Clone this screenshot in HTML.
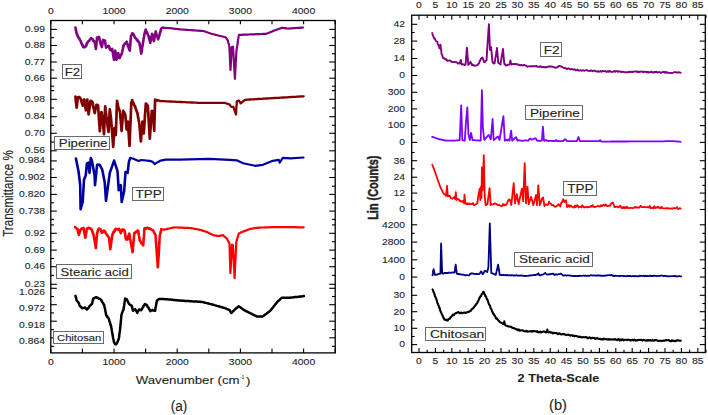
<!DOCTYPE html><html><head><meta charset="utf-8"><style>html,body{margin:0;padding:0;background:#fff;width:708px;height:415px;overflow:hidden}svg{display:block}text{font-family:"Liberation Sans",sans-serif;stroke:#222;stroke-width:0.1px}</style></head><body>
<svg width="708" height="415" viewBox="0 0 708 415">
<rect width="708" height="415" fill="#fff"/>
<polyline points="75.4,27.5 75.6,27.8 75.7,29.3 75.8,29.7 76.0,30.6 76.2,30.6 76.3,32.3 76.4,32.9 76.6,33.3 76.9,33.9 77.2,34.4 77.5,35.9 77.8,35.5 78.1,37.3 78.4,37.5 78.8,37.8 79.2,38.1 79.6,39.3 79.9,39.9 80.3,40.4 80.6,41.0 81.0,41.8 81.3,43.1 81.7,43.6 82.0,44.1 82.3,45.4 82.7,45.1 83.0,46.6 83.3,47.1 84.1,47.4 84.9,47.1 85.7,46.5 86.0,45.6 86.3,45.6 86.6,44.4 86.9,43.1 87.2,43.4 87.5,42.3 88.1,41.3 88.7,41.3 89.3,40.5 89.8,39.7 90.2,39.3 90.6,38.7 91.1,38.1 91.7,38.7 92.3,38.8 92.9,39.9 93.5,41.1 94.1,41.0 94.7,41.7 94.8,42.4 94.9,43.5 95.1,44.3 95.2,44.6 95.3,45.4 95.4,45.7 95.5,47.3 95.7,47.8 95.8,48.6 95.9,48.9 96.0,48.6 96.1,47.5 96.1,46.2 96.2,46.1 96.3,45.3 96.3,44.5 96.4,44.0 96.5,43.3 96.6,41.9 96.7,41.4 96.7,41.5 96.8,40.7 96.9,39.3 96.9,39.1 97.0,37.6 97.1,37.5 98.0,37.5 98.9,36.9 99.1,37.2 99.3,38.2 99.4,38.7 99.6,39.4 99.8,40.8 100.0,41.0 100.2,41.4 100.3,42.6 100.5,42.9 100.7,44.1 101.0,44.9 101.3,45.7 101.6,45.8 101.9,47.1 102.0,46.0 102.1,45.3 102.3,45.2 102.4,43.9 102.5,43.9 102.6,42.4 102.7,41.9 102.9,41.1 103.0,40.1 103.1,39.9 104.0,40.8 104.9,40.5 105.0,41.0 105.1,41.7 105.3,43.0 105.4,43.1 105.5,44.6 105.6,45.2 105.7,45.6 105.9,46.7 106.0,47.2 106.1,47.7 106.7,47.1 107.3,46.4 108.0,46.3 108.6,45.9 108.9,46.1 109.2,47.1 109.5,47.8 109.8,49.2 110.1,49.0 110.4,50.1 111.0,50.3 111.6,49.1 112.2,48.9 112.3,49.8 112.4,50.9 112.6,51.5 112.7,51.8 112.8,52.2 112.9,52.8 113.0,54.5 113.2,55.0 113.3,55.8 113.4,56.0 113.5,57.3 113.6,58.2 113.8,57.9 113.9,58.6 114.0,59.8 114.1,58.6 114.2,58.7 114.3,57.5 114.4,57.3 114.5,56.4 114.6,55.1 114.6,55.4 114.7,54.7 114.8,53.2 114.9,53.2 115.0,52.3 115.1,50.9 115.2,50.7 115.3,50.8 115.4,52.7 115.5,52.3 115.6,53.2 115.7,53.7 115.8,54.8 115.8,56.1 115.9,56.0 116.0,56.5 116.1,57.1 116.2,59.0 116.3,59.2 116.4,59.8 116.6,58.8 116.8,58.8 117.0,58.1 117.2,56.5 117.4,56.7 117.6,55.6 117.8,54.3 118.0,53.6 118.2,53.1 118.4,53.3 118.5,55.1 118.7,55.4 118.9,56.4 119.1,56.4 119.2,57.1 119.4,58.0 119.7,57.9 120.1,56.6 120.4,56.3 120.8,55.2 121.1,54.6 121.5,54.4 121.8,53.7 122.0,52.5 122.1,52.0 122.2,51.6 122.4,50.5 122.5,50.6 122.7,50.0 122.8,49.1 123.0,48.5 123.1,46.9 123.3,47.2 123.4,46.5 123.6,45.3 124.0,45.2 124.5,43.9 125.0,43.9 125.4,42.9 126.1,42.7 126.8,41.7 127.0,42.6 127.2,43.0 127.4,44.1 127.6,44.2 127.8,45.8 128.0,45.9 128.3,46.6 128.5,47.7 128.8,47.8 129.0,48.4 129.3,49.5 129.5,50.1 129.8,50.7 129.9,49.8 129.9,48.8 130.0,49.0 130.0,47.7 130.1,46.8 130.1,46.4 130.2,45.9 130.3,45.2 130.3,44.0 130.4,43.5 130.4,42.7 130.5,42.6 130.5,41.1 130.6,40.2 130.7,40.0 130.7,38.9 130.8,39.0 130.8,38.1 130.9,37.0 130.9,36.7 131.0,35.7 131.4,35.3 131.8,34.7 132.2,33.3 132.8,33.5 133.4,34.2 134.0,35.1 134.3,36.2 134.6,36.8 134.9,37.2 135.2,38.1 135.7,38.2 136.2,38.5 136.8,40.0 137.3,39.8 137.8,41.2 138.3,41.1 138.7,42.0 139.1,42.5 139.5,42.9 139.6,43.6 139.7,44.9 139.9,45.4 140.0,45.4 140.1,46.1 140.2,47.8 140.3,48.1 140.5,48.2 140.6,49.1 140.7,49.5 140.8,50.7 140.9,51.7 141.1,52.7 141.2,52.7 141.3,53.7 141.4,52.7 141.5,52.0 141.6,51.9 141.8,51.4 141.9,50.1 142.0,49.7 142.1,48.6 142.2,47.5 142.3,46.8 142.4,46.6 142.5,46.2 142.7,44.7 142.8,44.5 142.9,43.7 143.0,43.0 143.1,42.3 143.2,41.5 143.3,40.6 143.4,40.5 143.5,39.5 143.6,38.6 143.8,37.5 143.9,37.5 144.0,37.0 144.1,36.5 144.2,35.6 144.3,34.5 144.5,34.1 144.7,32.9 144.9,32.5 145.1,31.5 145.3,30.9 145.5,30.2 145.7,29.6 146.0,30.4 146.3,31.6 146.7,31.8 147.0,32.7 147.3,33.3 147.7,34.3 148.1,35.1 148.5,35.7 148.7,36.9 148.9,37.6 149.0,38.2 149.2,38.4 149.4,39.5 149.6,40.1 149.8,41.1 149.9,41.4 150.1,42.2 150.3,42.9 150.4,42.1 150.6,41.7 150.7,40.8 150.9,40.4 151.0,39.7 151.1,38.4 151.3,38.5 151.4,36.9 151.5,36.7 151.7,36.0 151.8,34.9 152.0,34.8 152.1,33.9 152.3,34.3 152.5,35.0 152.6,35.7 152.8,37.2 153.0,37.2 153.2,38.5 153.4,38.4 153.5,39.8 153.7,40.3 153.9,41.1 154.0,40.7 154.2,39.9 154.3,39.6 154.4,38.8 154.5,37.8 154.7,37.0 154.8,35.8 154.9,35.4 155.1,34.6 155.2,34.4 155.3,33.0 155.4,32.8 155.6,31.7 155.7,31.4 155.9,32.2 156.1,32.5 156.3,33.8 156.5,34.8 156.7,34.8 156.9,35.7 157.1,36.0 157.4,36.7 157.6,37.9 157.9,38.2 158.1,39.3 158.3,38.9 158.6,37.9 158.8,37.3 159.0,36.4 159.2,36.1 159.4,35.2 159.7,33.8 159.9,33.3 160.1,32.7 160.3,31.7 160.5,31.5 160.7,30.9 160.9,29.3 161.1,29.0 161.7,28.1 162.4,27.8 163.0,27.8" fill="none" stroke="#800080" stroke-width="2.6" stroke-linejoin="round" stroke-linecap="round"/>
<polyline points="163.0,27.8 163.7,27.8 164.4,27.9 165.1,27.9 165.8,27.9 166.5,28.0 167.3,28.0 168.0,28.1 168.7,28.1 169.4,28.1 170.1,28.2 170.8,28.2 171.5,28.3 172.2,28.4 172.9,28.5 173.6,28.6 174.3,28.7 175.0,28.8 175.8,28.8 176.5,28.9 177.2,29.0 177.9,29.1 178.6,29.2 179.3,29.3 180.0,29.4 180.7,29.4 181.4,29.5 182.1,29.5 182.8,29.6 183.6,29.6 184.3,29.7 185.0,29.7 185.7,29.8 186.4,29.8 187.1,29.9 187.8,29.9 188.5,30.0 189.3,30.0 190.0,30.1 190.7,30.1 191.4,30.2 192.1,30.2 192.8,30.3 193.5,30.3 194.2,30.4 195.0,30.4 195.7,30.5 196.4,30.5 197.1,30.6 197.8,30.6 198.5,30.7 199.2,30.7 199.9,30.8 200.7,30.8 201.4,30.9 202.1,30.9 202.8,31.0 203.5,31.0 204.2,31.3 204.9,31.5 205.6,31.8 206.3,32.0 207.0,32.3 207.8,32.5 208.5,32.8 209.2,33.0 209.9,33.3 210.6,33.5 211.3,33.8 212.0,34.0 212.7,34.1 213.5,34.3 214.2,34.5 214.9,34.7 215.6,34.8 216.3,35.0 217.0,35.2 217.8,35.4 218.5,35.5 219.2,35.7 219.9,35.9 220.6,36.0 221.3,36.2 222.0,36.4 222.7,36.5 223.4,36.7 224.1,36.9 224.8,37.0 225.5,37.2 226.0,37.8 226.4,38.5 226.9,39.1 227.3,39.8 227.8,40.4 228.0,41.1 228.2,41.8 228.3,42.5 228.5,43.2 228.7,43.8 228.9,44.5 229.0,45.2 229.2,45.9 229.4,46.6 229.4,47.3 229.5,48.0 229.5,48.7 229.5,49.4 229.6,50.2 229.6,50.9 229.6,51.6 229.7,52.3 229.7,53.0 229.7,53.7 229.8,54.4 229.8,55.1 229.8,55.9 229.9,56.6 229.9,57.3 229.9,58.0 230.0,58.7 230.0,59.4 230.0,60.1 230.1,60.8 230.1,61.6 230.1,62.3 230.2,63.0 230.2,63.7 230.2,64.4 230.3,65.1 230.3,65.8 230.3,66.5 230.4,67.3 230.4,68.0 230.4,68.7 230.5,69.4 230.5,70.1 230.5,69.4 230.6,68.7 230.6,68.0 230.7,67.3 230.7,66.6 230.7,65.8 230.8,65.1 230.8,64.4 230.8,63.7 230.9,63.0 230.9,62.3 230.9,61.6 231.0,60.9 231.0,60.2 231.1,59.5 231.1,58.8 231.1,58.0 231.2,57.3 231.2,56.6 231.2,55.9 231.3,55.2 231.3,54.5 231.4,53.8 231.4,53.1 231.4,52.4 231.5,51.7 231.5,50.9 231.5,50.2 231.6,49.5 231.6,48.8 231.7,48.1 231.7,47.4 232.3,47.0 233.0,46.6 233.0,47.3 233.1,48.0 233.1,48.7 233.2,49.4 233.2,50.1 233.2,50.8 233.3,51.5 233.3,52.2 233.4,52.9 233.4,53.6 233.5,54.3 233.5,55.0 233.5,55.7 233.6,56.4 233.6,57.1 233.7,57.8 233.7,58.5 233.7,59.2 233.8,59.9 233.8,60.6 233.9,61.3 233.9,62.0 233.9,62.7 234.0,63.4 234.0,64.1 234.1,64.8 234.1,65.5 234.2,66.2 234.2,66.9 234.2,67.6 234.3,68.3 234.3,69.0 234.4,69.7 234.4,70.4 234.4,71.1 234.5,71.8 234.5,72.5 234.6,73.2 234.6,73.9 234.7,74.6 234.7,75.3 234.7,76.0 234.8,76.7 234.8,77.4 234.9,78.1 234.9,78.8 234.9,78.1 235.0,77.4 235.0,76.7 235.1,76.0 235.1,75.3 235.1,74.6 235.2,73.9 235.2,73.2 235.2,72.5 235.3,71.7 235.3,71.0 235.4,70.3 235.4,69.6 235.4,68.9 235.5,68.2 235.5,67.5 235.6,66.8 235.6,66.1 235.6,65.4 235.7,64.7 235.7,64.0 235.7,63.3 235.8,62.6 235.8,61.9 235.9,61.2 235.9,60.5 235.9,59.8 236.0,59.1 236.0,58.4 236.1,57.6 236.1,56.9 236.1,56.2 236.2,55.5 236.2,54.8 236.2,54.1 236.3,53.4 236.3,52.7 236.4,52.0 236.4,51.3 236.5,50.6 236.6,49.8 236.7,49.1 236.8,48.4 236.9,47.7 237.0,46.9 237.1,46.2 237.3,45.5 237.4,44.8 237.5,44.0 237.6,43.3 237.7,42.6 237.8,41.9 237.9,41.1 238.0,40.4 238.1,39.6 238.3,38.8 238.4,38.0 238.5,37.3 238.6,36.5 238.8,35.7 238.9,34.9 239.6,34.9 240.3,34.8 241.0,34.8 241.7,34.8 242.4,34.8 243.1,34.7 243.8,34.7 244.5,34.7 245.2,34.6 245.9,34.6 246.6,34.6 247.3,34.6 248.0,34.5 248.7,34.5 249.4,34.5 250.1,34.4 250.8,34.4 251.5,34.4 252.2,34.4 253.0,34.3 253.7,34.3 254.4,34.3 255.1,34.3 255.8,34.2 256.5,34.2 257.2,34.2 257.9,34.1 258.6,34.1 259.3,34.1 260.0,34.1 260.7,34.0 261.4,34.0 262.1,34.0 262.8,33.9 263.5,33.9 264.2,33.9 264.9,33.9 265.6,33.8 266.3,33.8 266.9,33.5 267.6,33.3 268.2,33.0 268.9,32.7 269.6,32.5 270.2,32.2 270.9,31.9 271.5,31.7 272.2,31.4 272.8,31.1 273.5,30.9 274.1,30.6 274.8,30.3 275.5,30.1 276.3,29.8 277.0,29.6 277.7,29.3 278.4,29.1 279.1,28.8 279.8,28.6 280.6,28.3 281.3,28.1 282.0,27.8 282.8,27.9 283.6,28.0 284.3,28.1 285.1,28.2 285.9,28.3 286.6,28.4 287.4,28.5 288.2,28.6 288.9,28.5 289.6,28.5 290.3,28.4 291.0,28.4 291.7,28.3 292.5,28.3 293.2,28.2 293.9,28.2 294.6,28.1 295.3,28.1 296.0,28.0 296.7,28.0 297.4,27.9 298.1,27.9 298.8,27.8 299.6,27.8 300.3,27.7 301.0,27.7 301.7,27.6 302.4,27.6 303.1,27.5" fill="none" stroke="#800080" stroke-width="2.2" stroke-linejoin="round" stroke-linecap="round"/>
<polyline points="75.4,96.7 75.5,98.0 75.6,97.6 75.7,99.3 75.7,99.8 75.8,100.5 75.9,101.2 76.0,101.7 76.1,102.8 76.2,103.8 76.3,103.9 76.4,104.1 76.4,105.4 76.5,106.0 76.6,106.9 76.7,107.6 76.8,106.6 76.9,105.9 76.9,105.4 77.0,104.9 77.1,104.4 77.2,103.5 77.2,102.8 77.3,101.6 77.4,101.6 77.5,100.6 77.6,99.5 77.6,98.8 77.7,98.1 77.8,97.4 78.7,97.1 79.5,97.1 79.9,98.1 80.4,98.3 80.8,98.8 81.0,99.7 81.2,99.8 81.4,101.1 81.6,102.0 81.8,102.7 82.0,103.4 82.2,103.6 82.4,104.4 82.6,104.7 82.8,105.6 83.0,104.9 83.2,104.2 83.3,103.7 83.5,103.0 83.7,102.1 83.8,101.2 84.0,99.9 84.2,99.5 84.3,99.7 84.4,101.4 84.5,101.3 84.7,102.3 84.8,102.5 84.9,103.4 85.0,104.0 85.1,104.7 85.2,105.4 85.3,107.1 85.4,107.0 85.6,108.0 85.7,109.4 85.8,109.0 85.9,110.3 86.0,109.7 86.1,108.4 86.2,107.6 86.3,107.7 86.4,107.2 86.5,106.4 86.6,105.2 86.6,104.7 86.7,103.3 86.8,103.5 86.9,102.5 87.0,101.7 87.1,101.5 87.2,100.3 87.3,99.5 87.4,99.6 87.4,100.5 87.5,101.1 87.5,101.9 87.6,103.1 87.7,104.3 87.7,104.1 87.8,104.9 87.9,106.0 87.9,106.8 88.0,107.2 88.0,107.4 88.1,108.6 88.2,109.7 88.2,109.7 88.3,110.5 88.4,111.6 88.4,112.0 88.5,112.6 88.5,114.2 88.6,114.4 88.7,113.6 88.8,113.1 88.9,112.2 89.0,111.2 89.1,111.2 89.2,110.1 89.3,109.5 89.4,109.3 89.5,107.4 89.7,106.8 89.8,106.9 89.9,105.2 90.0,105.0 90.1,104.0 90.2,103.2 90.3,102.8 90.4,101.7 90.5,101.1 90.6,100.8 91.4,101.2 92.3,101.8 92.5,102.8 92.6,102.7 92.8,103.4 92.9,104.8 93.0,105.5 93.2,106.2 93.3,107.0 93.5,107.2 93.7,108.5 93.8,108.8 94.0,110.0 94.1,110.7 94.2,110.7 94.4,111.6 94.5,112.2 94.7,113.0 94.9,112.8 95.0,111.9 95.2,110.6 95.3,109.6 95.5,108.8 95.6,109.1 95.8,108.0 95.9,106.9 96.1,106.6 96.2,105.6 96.4,104.9 97.2,104.8 98.1,105.6 98.1,106.9 98.2,106.5 98.2,108.0 98.3,108.9 98.3,109.4 98.4,110.5 98.4,110.7 98.5,111.2 98.5,112.1 98.6,112.3 98.6,113.4 98.7,114.4 98.7,115.1 98.8,116.1 98.8,116.6 98.9,117.3 98.9,117.4 98.9,118.3 99.0,119.7 99.0,119.2 99.1,120.8 99.1,121.4 99.2,121.4 99.2,122.9 99.3,123.9 99.3,123.6 99.4,125.1 99.4,125.8 99.5,125.9 99.5,126.5 99.6,127.6 99.6,128.4 99.7,128.7 99.7,129.3 99.8,130.5 99.8,131.2 99.9,130.7 99.9,129.8 100.0,128.9 100.1,128.4 100.1,127.1 100.2,126.5 100.2,126.6 100.3,125.7 100.4,125.2 100.4,123.7 100.5,123.3 100.6,122.1 100.6,122.5 100.7,121.3 100.7,120.5 100.8,119.6 100.9,119.1 100.9,118.9 101.0,118.1 101.1,117.2 101.1,116.5 101.2,116.0 101.2,115.0 101.3,114.2 101.4,113.8 101.4,112.5 101.5,112.0 101.6,112.7 101.8,113.2 101.9,113.8 102.0,114.9 102.1,115.5 102.2,116.4 102.4,117.2 102.5,118.0 102.6,119.2 102.6,119.3 102.7,120.6 102.8,120.3 102.8,121.1 102.9,122.0 103.0,123.3 103.0,124.0 103.1,124.2 103.2,124.8 103.2,126.2 103.3,126.6 103.3,127.4 103.4,128.2 103.5,128.8 103.5,128.9 103.6,130.1 103.7,130.5 103.7,131.8 103.8,132.0 103.9,132.3 103.9,133.0 104.0,134.1 104.0,133.2 104.1,133.2 104.1,132.3 104.1,131.3 104.2,130.9 104.2,129.6 104.2,128.7 104.2,128.9 104.3,127.3 104.3,126.7 104.3,126.0 104.4,125.3 104.4,125.0 104.4,124.0 104.5,122.9 104.5,123.2 104.5,122.4 104.6,121.3 104.6,120.4 104.6,120.0 104.6,119.8 104.7,118.4 104.7,117.5 104.7,117.2 104.8,116.4 104.8,116.2 104.8,114.9 104.9,114.2 104.9,113.0 104.9,112.3 105.0,112.3 105.0,110.9 105.0,111.0 105.0,109.5 105.1,108.8 105.1,108.7 105.1,108.4 105.2,106.6 105.2,106.4 105.3,106.8 105.4,107.9 105.4,108.6 105.5,108.9 105.6,110.4 105.7,111.0 105.8,111.0 105.8,111.8 105.9,112.5 106.0,113.1 106.1,114.2 106.2,115.5 106.3,116.1 106.3,117.1 106.4,116.8 106.5,118.0 106.6,118.9 106.7,119.3 106.8,120.0 106.9,120.7 107.0,121.9 107.1,122.2 107.2,123.2 107.3,123.3 107.4,124.5 107.5,124.4 107.6,125.3 107.7,126.5 107.8,127.3 107.9,128.0 108.0,128.0 108.1,129.6 108.2,130.0 108.3,130.2 108.4,131.5 108.5,132.0 108.5,130.9 108.6,131.2 108.6,129.8 108.7,128.8 108.7,128.7 108.7,128.2 108.8,127.0 108.8,126.6 108.9,125.8 108.9,125.2 108.9,124.7 109.0,123.3 109.0,122.7 109.1,122.6 109.1,121.7 109.2,121.0 109.2,119.9 109.2,119.3 109.3,118.2 109.3,117.5 109.4,117.3 109.4,116.1 109.4,116.2 109.5,115.2 109.5,114.8 109.6,113.4 109.6,113.3 109.6,111.6 109.7,111.2 109.7,110.6 109.8,110.4 109.8,109.4 109.9,110.0 110.0,111.2 110.1,111.6 110.2,111.8 110.3,112.8 110.4,113.8 110.5,114.6 110.6,115.5 110.7,115.4 110.8,117.1 110.9,116.9 111.0,118.0 111.1,119.2 111.1,119.6 111.2,119.8 111.2,120.3 111.3,121.1 111.3,122.1 111.4,123.5 111.4,123.6 111.5,124.0 111.5,125.1 111.6,125.2 111.6,126.6 111.7,127.4 111.8,127.9 111.8,128.5 111.9,129.6 111.9,130.2 112.0,130.3 112.0,131.3 112.1,131.6 112.1,132.8 112.2,133.6 112.2,133.7 112.3,134.4 112.3,135.5 112.4,136.0 112.4,136.9 112.5,137.5 112.6,138.9 112.6,138.6 112.7,139.6 112.7,140.6 112.8,141.7 112.8,142.4 112.9,142.4 112.9,142.7 113.0,144.6 113.0,145.1 113.1,145.4 113.1,146.0 113.2,146.8 113.2,146.4 113.3,144.8 113.3,145.2 113.4,144.1 113.4,143.7 113.5,142.2 113.5,142.2 113.5,141.5 113.6,140.4 113.6,139.2 113.7,138.3 113.7,138.1 113.8,137.6 113.8,136.7 113.8,135.8 113.9,134.8 113.9,134.5 114.0,134.4 114.0,133.1 114.0,132.3 114.1,132.0 114.1,130.5 114.2,129.7 114.2,128.9 114.3,129.3 114.3,128.0 114.5,128.8 114.6,129.3 114.8,130.0 114.9,130.5 115.0,132.0 115.2,132.3 115.3,132.7 115.5,134.2 115.6,134.4 115.8,135.0 115.8,134.0 115.8,133.4 115.9,132.8 115.9,132.2 115.9,131.4 116.0,131.0 116.0,130.0 116.0,129.6 116.0,129.2 116.0,128.0 116.1,127.1 116.1,127.0 116.1,125.9 116.1,125.3 116.2,124.7 116.2,123.2 116.2,123.1 116.2,122.2 116.3,121.9 116.3,121.3 116.3,120.0 116.3,119.7 116.4,118.9 116.4,117.8 116.4,117.2 116.5,117.1 116.5,115.9 116.5,114.7 116.5,114.2 116.5,113.8 116.6,113.5 116.6,111.8 116.6,111.0 116.7,111.1 116.7,109.9 116.7,109.9 116.7,109.2 116.8,108.1 116.8,107.4 116.8,106.3 116.8,106.0 116.8,105.1 116.9,104.5 116.9,103.4 116.9,103.6 117.0,102.0 117.0,101.9 117.0,100.9 117.2,101.7 117.3,102.8 117.5,103.0 117.6,103.6 117.8,104.3 117.9,104.8 118.0,106.4 118.2,106.7 118.3,106.9 118.5,108.0 118.8,108.9 119.0,108.9 119.2,109.7 119.5,110.7 119.8,110.9 120.0,112.2 120.1,112.7 120.1,113.6 120.2,114.9 120.2,115.4 120.3,115.7 120.4,116.0 120.4,117.2 120.5,118.3 120.6,119.0 120.6,118.8 120.7,119.7 120.7,120.3 120.8,121.5 120.9,121.7 120.9,123.3 121.0,123.3 121.0,124.5 121.1,125.3 121.2,125.4 121.2,125.9 121.3,126.7 121.4,127.9 121.4,129.2 121.5,129.5 121.5,130.6 121.6,130.8 121.7,129.7 121.7,128.8 121.8,128.8 121.8,128.4 121.9,126.8 122.0,127.1 122.0,125.8 122.1,124.6 122.1,125.0 122.2,124.1 122.3,122.8 122.3,121.9 122.4,121.6 122.4,120.9 122.5,120.7 122.6,119.8 122.6,118.5 122.7,117.6 122.8,117.2 122.8,117.0 122.9,116.4 122.9,115.0 123.0,115.0 123.1,113.2 123.1,112.9 123.2,112.6 123.2,111.3 123.3,110.9 123.6,112.1 124.0,112.6 124.3,112.5 124.6,113.7 125.0,114.3 125.3,114.9 125.4,115.6 125.4,116.3 125.5,116.6 125.6,117.6 125.6,118.6 125.7,119.0 125.8,119.8 125.8,120.3 125.9,121.9 125.9,121.8 126.0,122.4 126.1,123.5 126.1,124.2 126.2,125.5 126.3,125.2 126.3,126.4 126.4,126.8 126.5,127.7 126.5,128.4 126.6,129.4 126.7,129.1 126.8,127.9 127.0,127.7 127.1,127.1 127.2,126.2 127.3,125.2 127.4,124.5 127.5,123.1 127.7,123.4 127.8,122.2 127.9,121.5 127.9,122.6 128.0,122.9 128.0,123.2 128.1,124.7 128.1,125.6 128.2,126.3 128.2,126.4 128.3,126.7 128.3,128.2 128.4,128.5 128.4,129.4 128.4,130.2 128.5,130.7 128.5,131.4 128.6,132.6 128.6,133.0 128.7,133.9 128.7,134.5 128.8,134.5 128.8,135.2 128.9,136.3 128.9,137.4 129.0,137.9 129.0,138.1 129.0,139.5 129.1,139.7 129.1,139.9 129.2,141.7 129.2,142.0 129.3,142.0 129.3,143.1 129.4,143.8 129.4,144.2 129.5,145.1 129.5,146.0 129.5,144.9 129.6,144.5 129.6,144.4 129.6,142.6 129.6,143.0 129.7,142.1 129.7,141.6 129.7,140.5 129.8,139.2 129.8,138.6 129.8,138.6 129.9,138.0 129.9,136.2 129.9,135.5 129.9,135.9 130.0,134.2 130.0,134.2 130.0,133.2 130.1,133.0 130.1,132.1 130.1,130.6 130.1,130.1 130.2,129.4 130.2,129.3 130.2,128.8 130.3,128.2 130.3,127.1 130.3,126.4 130.4,125.2 130.4,125.1 130.4,123.6 130.4,123.0 130.5,122.4 130.5,122.4 130.5,121.5 130.6,120.9 130.6,120.5 130.6,118.9 130.7,118.4 130.7,117.9 130.7,117.6 130.7,116.9 130.8,115.8 130.8,115.0 130.8,113.9 130.9,113.1 130.9,112.9 130.9,111.7 130.9,111.2 131.0,110.6 131.0,109.8 131.0,108.8 131.1,108.5 131.1,107.2 131.1,106.6 131.2,106.2 131.2,106.3 131.2,104.7 131.2,103.8 131.3,103.1 131.3,102.9 131.5,102.3 131.8,102.0 132.0,101.0 132.2,100.0 132.5,101.2 132.8,101.8 133.1,102.4 133.4,102.8 133.7,103.8 134.0,104.5 134.3,105.2 134.6,105.6 134.9,106.5 135.1,106.3 135.4,107.8 135.6,108.2 135.9,109.0 136.2,110.1 136.4,110.0 136.7,111.4 136.9,111.9 137.2,112.2 137.3,112.5 137.5,113.5 137.6,114.7 137.7,114.8 137.9,116.2 138.0,116.5 138.1,117.6 138.3,117.8 138.4,118.3 138.5,119.2 138.7,120.2 138.8,120.9 138.9,121.8 139.1,122.3 139.2,122.8 139.3,123.0 139.3,124.3 139.4,124.5 139.5,126.0 139.5,127.0 139.6,127.5 139.7,127.4 139.7,129.0 139.8,129.0 139.9,129.8 139.9,130.9 140.0,130.9 140.1,131.6 140.1,133.2 140.2,133.2 140.2,133.9 140.3,134.8 140.4,135.6 140.4,136.8 140.5,136.9 140.6,137.5 140.6,138.9 140.7,138.9 140.8,140.0 140.8,141.2 140.9,141.4 141.0,140.1 141.0,140.0 141.1,139.3 141.1,138.1 141.2,138.2 141.2,136.7 141.3,136.0 141.4,135.3 141.4,134.8 141.5,134.4 141.5,133.7 141.6,133.4 141.6,132.3 141.7,131.1 141.8,131.3 141.8,129.5 141.9,129.0 141.9,128.2 142.0,128.2 142.0,127.3 142.1,126.6 142.2,125.6 142.2,124.7 142.3,124.7 142.3,123.9 142.4,122.9 142.4,122.0 142.5,121.5 142.6,122.6 142.7,123.2 142.7,123.5 142.8,124.4 142.9,124.7 143.0,126.2 143.0,125.8 143.1,127.3 143.2,128.3 143.3,129.0 143.3,129.7 143.4,129.4 143.5,130.4 143.6,131.7 143.6,132.0 143.7,133.0 143.8,133.4 143.8,132.8 143.9,132.1 143.9,131.2 144.0,130.4 144.0,129.9 144.1,129.0 144.1,128.7 144.2,127.6 144.2,127.4 144.3,126.8 144.3,125.0 144.4,124.9 144.4,124.6 144.5,123.9 144.5,123.2 144.6,121.5 144.6,121.9 144.7,121.0 144.7,119.6 144.8,119.6 144.8,118.4 144.8,117.5 144.9,116.5 144.9,116.0 145.0,115.7 145.0,115.2 145.1,114.3 145.1,113.1 145.2,112.4 145.2,111.8 145.3,112.0 145.3,110.6 145.4,109.5 145.4,108.8 145.5,108.9 145.5,108.1 145.6,107.6 145.6,106.1 145.7,105.7 145.7,105.2 145.8,104.9 145.8,103.6 146.3,103.8 146.8,104.4 147.3,105.6 147.8,105.6 147.8,105.8 147.9,106.6 147.9,107.5 148.0,108.1 148.0,109.7 148.1,109.8 148.1,110.3 148.1,111.7 148.2,111.7 148.2,112.6 148.3,113.7 148.3,114.6 148.4,114.2 148.4,115.5 148.4,116.6 148.5,116.9 148.5,117.1 148.6,118.4 148.6,119.2 148.7,120.0 148.7,120.6 148.7,121.5 148.8,121.9 148.8,122.6 148.9,123.4 148.9,123.7 148.9,124.3 149.0,124.7 149.0,126.3 149.1,126.7 149.1,127.1 149.2,128.2 149.2,128.7 149.2,129.9 149.3,130.0 149.3,131.1 149.4,131.8 149.4,132.7 149.5,133.4 149.5,133.4 149.5,134.4 149.6,134.7 149.6,135.6 149.7,136.8 149.7,137.1 149.8,138.2 149.8,138.7 149.9,138.1 149.9,136.8 150.0,136.4 150.0,135.5 150.1,135.0 150.1,134.0 150.2,133.7 150.2,133.4 150.3,132.3 150.3,131.3 150.4,130.6 150.4,130.1 150.5,129.2 150.5,128.7 150.6,128.6 150.6,127.1 150.7,126.1 150.7,125.9 150.8,125.3 150.8,124.3 150.9,123.6 150.9,123.3 151.0,122.3 151.0,121.9 151.1,121.5 151.1,120.0 151.2,119.6 151.2,118.9 151.3,118.3 151.3,117.7 151.4,116.9 151.4,115.9 151.5,115.7 151.5,114.1 151.6,113.7 151.6,113.4 151.7,112.2 151.7,111.0 151.8,110.9 152.4,111.1 153.1,112.2 153.1,112.7 153.2,113.2 153.2,114.6 153.3,114.5 153.3,115.2 153.4,116.8 153.4,117.0 153.4,118.2 153.5,118.7 153.5,119.0 153.6,120.0 153.6,120.7 153.6,121.5 153.7,122.6 153.7,122.8 153.8,123.8 153.8,123.9 153.9,125.2 153.9,125.5 153.9,127.1 154.0,127.3 154.0,127.9 154.1,128.4 154.1,129.3 154.2,130.2 154.2,130.8 154.2,130.6 154.2,129.2 154.3,128.1 154.3,127.9 154.3,126.7 154.3,126.2 154.3,125.7 154.4,124.9 154.4,124.0 154.4,123.3 154.4,123.1 154.4,121.7 154.5,121.3 154.5,120.3 154.5,119.7 154.5,119.4 154.5,119.2 154.6,118.3 154.6,117.6 154.6,116.9 154.6,116.4 154.6,114.7 154.7,114.3 154.7,113.4 154.7,113.1 154.7,112.6 154.8,111.5 154.8,111.0 154.8,110.3 154.8,109.6 154.8,108.5 154.9,108.3 154.9,107.3 154.9,107.1 154.9,106.0 154.9,105.2 155.0,104.3 155.0,103.6 155.0,102.6 155.0,102.6 155.0,101.7 155.1,101.2 155.1,100.4 155.1,99.6 155.9,99.9 156.6,100.4" fill="none" stroke="#800000" stroke-width="2.7" stroke-linejoin="round" stroke-linecap="round"/>
<polyline points="156.6,100.4 157.4,100.6 158.2,100.1 158.9,100.7 159.7,101.0 160.4,101.0 161.1,101.1 161.8,101.1 162.5,101.1 163.2,101.2 163.9,101.2 164.6,101.2 165.4,101.3 166.1,101.3 166.8,101.3 167.5,101.4 168.2,101.4 168.9,101.4 169.6,101.5 170.3,101.5 171.0,101.5 171.7,101.6 172.4,101.6 173.1,101.6 173.8,101.7 174.5,101.7 175.3,101.7 176.0,101.8 176.7,101.8 177.4,101.8 178.1,101.9 178.8,101.9 179.5,101.9 180.2,102.0 180.9,102.0 181.6,102.0 182.3,102.1 183.0,102.1 183.7,102.1 184.4,102.2 185.2,102.2 185.9,102.2 186.6,102.3 187.3,102.3 188.0,102.3 188.7,102.4 189.4,102.4 190.1,102.4 190.8,102.5 191.5,102.5 192.2,102.5 192.9,102.6 193.6,102.6 194.3,102.6 195.1,102.7 195.8,102.7 196.5,102.7 197.2,102.8 197.9,102.8 198.6,102.8 199.3,102.9 200.0,102.9 200.7,102.9 201.4,102.9 202.1,102.9 202.8,102.9 203.5,102.9 204.3,102.9 205.0,102.9 205.7,102.9 206.4,102.9 207.1,102.9 207.8,102.9 208.5,102.9 209.2,102.9 209.9,102.9 210.6,102.9 211.3,102.9 212.0,102.9 212.8,102.9 213.5,102.9 214.2,102.9 214.9,102.9 215.6,102.9 216.3,102.9 217.0,102.9 217.7,102.9 218.4,102.9 219.1,102.9 219.8,102.9 220.5,102.9 221.3,102.9 222.0,102.9 222.7,102.9 223.4,102.9 224.1,102.9 224.8,102.9 225.5,103.1 226.1,103.3 226.8,103.5 227.5,103.8 228.2,104.0 228.8,104.2 229.5,104.4 229.9,105.0 230.3,105.6 230.7,106.1 231.1,106.7 231.9,106.8 232.6,106.9 233.4,107.0 233.6,107.7 233.9,108.4 234.1,109.0 234.3,109.7 234.6,110.4 234.8,111.1 235.1,111.8 235.3,112.5 235.5,113.1 235.8,113.8 236.0,114.5 236.0,113.8 236.1,113.0 236.1,112.3 236.2,111.6 236.2,110.8 236.3,110.1 236.3,109.4 236.4,108.6 236.4,107.9 236.4,107.2 236.5,106.4 236.5,105.7 236.6,105.0 236.6,104.2 236.7,103.5 236.7,102.8 236.8,102.0 236.8,101.3 237.5,101.0 238.1,100.8 238.8,100.5 239.3,101.2 239.8,101.9 240.2,102.6 240.7,103.3 241.3,102.8 241.9,102.3 242.5,101.8 243.2,101.3 243.8,100.8 244.4,100.3 245.0,99.8 245.7,99.8 246.4,99.7 247.1,99.7 247.8,99.6 248.5,99.6 249.2,99.5 249.9,99.5 250.6,99.5 251.3,99.4 252.0,99.4 252.7,99.3 253.4,99.3 254.1,99.3 254.8,99.2 255.5,99.2 256.2,99.1 256.9,99.1 257.6,99.0 258.3,99.0 259.0,99.0 259.7,98.9 260.4,98.9 261.1,98.8 261.8,98.8 262.5,98.8 263.2,98.7 263.9,98.7 264.6,98.6 265.3,98.6 266.0,98.5 266.7,98.5 267.4,98.5 268.1,98.4 268.8,98.4 269.5,98.3 270.2,98.3 270.9,98.3 271.6,98.2 272.3,98.2 273.0,98.1 273.7,98.1 274.4,98.0 275.0,98.0 275.7,98.0 276.4,97.9 277.1,97.9 277.8,97.8 278.5,97.8 279.2,97.8 279.9,97.7 280.6,97.7 281.3,97.6 282.0,97.6 282.7,97.5 283.4,97.5 284.1,97.5 284.8,97.4 285.5,97.4 286.2,97.3 286.9,97.3 287.6,97.3 288.3,97.2 289.0,97.2 289.7,97.1 290.4,97.1 291.1,97.0 291.8,97.0 292.5,97.0 293.2,96.9 293.9,96.9 294.6,96.8 295.3,96.8 296.0,96.8 296.7,96.7 297.4,96.7 298.1,96.6 298.8,96.6 299.5,96.5 300.2,96.5 300.9,96.5 301.6,96.4 302.3,96.4 303.0,96.3 303.7,96.3" fill="none" stroke="#800000" stroke-width="2.3" stroke-linejoin="round" stroke-linecap="round"/>
<polyline points="75.9,158.5 78.5,171.2 80.2,185.0 80.6,209.2 82.7,202.0 84.0,179.7 85.7,175.4 86.9,163.6 88.2,162.7 89.5,172.9 90.8,158.1 92.0,161.0 94.6,175.4 95.0,185.1 97.1,164.8 99.7,164.8 102.2,169.5 104.7,182.2 106.0,200.8 109.8,172.9 114.1,160.6 117.5,171.2 118.7,190.2 120.8,185.1 121.7,202.0 124.2,191.0 125.5,172.0 127.6,172.9 128.9,161.9 130.2,158.1" fill="none" stroke="#0000a0" stroke-width="2.6" stroke-linejoin="round" stroke-linecap="round"/>
<polyline points="130.2,158.1 132.7,158.5 138.6,161.0 141.2,160.0 149.7,160.8 152.6,161.9 154.7,164.0 158.1,161.9 160.7,160.6 165.8,159.7 180.0,159.7 209.5,158.8 229.3,159.8 237.2,160.4 243.2,163.2 255.0,165.8 262.9,164.8 272.8,160.8 278.8,159.8 279.7,162.8 282.7,157.9 290.6,158.4 303.5,157.5" fill="none" stroke="#0000a0" stroke-width="2.2" stroke-linejoin="round" stroke-linecap="round"/>
<polyline points="75.1,227.2 75.7,227.4 76.3,228.1 77.0,229.0 77.6,229.3 77.8,229.3 77.9,230.3 78.1,232.1 78.2,232.5 78.4,232.9 78.6,233.6 78.7,234.1 78.9,234.8 79.1,234.3 79.3,233.6 79.6,232.2 79.8,232.2 80.0,231.3 80.2,230.2 80.8,229.9 81.3,228.9 81.9,228.5 82.8,228.2 83.6,228.0 83.7,229.2 83.8,228.9 84.0,230.8 84.1,231.0 84.2,231.5 84.3,232.0 84.4,233.0 84.6,233.9 84.7,234.8 84.8,235.2 84.9,236.2 85.1,237.0 85.2,237.4 85.3,237.8 85.4,237.5 85.5,236.1 85.7,236.1 85.8,234.4 85.9,234.1 86.0,233.2 86.2,233.3 86.3,232.2 86.4,231.7 86.5,231.2 86.7,229.9 86.8,228.9 86.9,228.5 87.8,228.5 88.6,227.7 89.5,228.0 90.1,228.7 90.8,228.5 91.4,229.4 92.0,230.2 92.2,231.5 92.5,231.6 92.7,232.6 93.0,233.2 93.2,234.5 93.5,234.5 93.7,235.3 93.8,235.6 93.9,237.4 94.0,237.5 94.2,238.0 94.3,238.2 94.4,239.7 94.5,240.4 94.6,241.2 94.8,241.9 94.9,241.7 95.0,243.3 95.1,243.4 95.2,244.6 95.3,245.0 95.5,245.7 95.6,246.3 95.7,247.7 95.8,248.0 95.9,247.4 95.9,246.3 96.0,246.2 96.0,244.6 96.1,244.6 96.2,243.4 96.2,243.4 96.3,242.7 96.4,241.2 96.4,241.3 96.5,239.6 96.5,239.3 96.6,239.0 96.7,237.4 96.7,237.5 96.8,236.8 96.9,235.1 96.9,235.3 97.0,233.9 97.0,233.3 97.1,232.7 97.4,232.6 97.7,230.6 97.9,231.1 98.2,229.8 98.5,229.8 98.8,228.5 99.7,229.2 100.5,229.3 100.8,230.2 101.0,230.4 101.3,231.0 101.5,232.1 101.8,232.7 102.3,232.6 102.8,232.2 103.4,231.7 103.9,230.6 104.3,231.7 104.7,231.1 105.2,231.8 105.6,233.1 106.0,233.3 106.4,234.0 106.8,234.8 107.3,234.9 107.7,235.9 108.1,236.3 108.6,237.2 109.0,237.8 109.1,238.1 109.2,239.8 109.2,240.4 109.3,240.8 109.4,240.7 109.5,241.8 109.6,242.7 109.7,243.9 109.7,243.6 109.8,244.4 109.9,246.3 110.0,245.8 110.1,246.8 110.1,247.6 110.2,248.6 110.3,249.2 110.4,248.1 110.5,247.3 110.6,247.4 110.7,245.8 110.8,245.5 110.9,245.4 111.0,244.7 111.1,243.5 111.2,242.9 111.3,242.0 111.4,241.4 111.5,240.8 111.6,239.4 111.7,239.2 111.8,239.2 111.9,238.5 112.0,236.9 112.1,236.0 112.2,236.0 112.3,235.5 112.4,234.4 112.8,234.1 113.2,232.6 113.5,231.9 113.9,232.3 114.3,230.8 114.7,231.3 115.0,229.5 115.4,229.0 115.8,228.9 116.7,229.1 117.5,229.5 118.3,229.3 119.2,228.9 119.5,230.0 119.7,230.6 120.0,231.3 120.3,231.1 120.5,232.5 120.8,233.1 121.1,232.0 121.5,231.2 121.8,231.2 122.2,229.9 122.5,229.3 123.2,229.7 124.0,229.8 124.7,231.0 124.8,232.4 124.9,232.8 125.0,233.4 125.1,234.1 125.2,234.5 125.3,235.8 125.4,235.4 125.5,237.2 125.6,237.3 125.7,237.6 125.8,238.4 125.9,239.5 126.7,239.2 127.5,239.5 127.7,239.0 127.9,237.7 128.1,237.2 128.3,236.7 128.6,235.4 128.8,235.0 129.0,233.9 129.2,233.6 129.3,234.0 129.5,234.5 129.6,235.6 129.7,236.3 129.8,237.5 130.0,237.7 130.1,238.9 130.2,239.4 130.3,239.8 130.5,240.1 130.6,241.4 130.7,242.4 130.8,242.1 131.0,242.8 131.1,244.4 131.2,244.3 131.3,245.0 131.5,246.3 131.6,246.1 131.7,247.1 131.8,248.2 132.0,248.1 132.1,249.4 132.2,249.7 132.3,251.5 132.5,251.6 132.6,252.2 132.7,251.2 132.7,250.2 132.8,250.7 132.9,250.0 132.9,249.0 133.0,247.7 133.0,247.5 133.1,246.2 133.2,246.5 133.2,245.2 133.3,244.4 133.4,244.0 133.4,243.1 133.5,242.5 133.5,241.1 133.6,241.1 133.7,240.8 133.7,239.2 133.8,238.9 133.9,238.3 133.9,237.1 134.0,236.0 134.0,236.3 134.1,235.6 134.2,234.2 134.2,234.3 134.3,233.1 134.9,232.7 135.6,232.6 136.2,231.6 136.8,231.5 137.5,230.8 138.1,230.6 138.2,230.7 138.3,231.4 138.5,233.1 138.6,232.9 138.7,233.9 138.8,235.2 138.9,235.6 139.1,236.0 139.2,236.9 139.3,237.1 139.4,238.6 139.6,239.3 139.7,240.2 139.8,240.3 140.2,241.0 140.7,241.8 141.1,242.5 141.5,243.4 141.9,243.6 142.3,243.4 142.8,245.0 143.2,245.4 143.3,244.7 143.3,243.6 143.4,242.6 143.4,242.8 143.5,242.0 143.5,241.7 143.6,240.9 143.6,239.1 143.7,238.7 143.7,238.4 143.8,237.4 143.8,237.2 143.9,236.7 144.0,236.1 144.0,235.2 144.1,234.6 144.1,233.9 144.2,233.1 144.2,231.5 144.3,230.7 144.3,230.1 144.4,230.2 144.4,229.1 144.5,228.5 145.3,228.1 146.2,228.6 147.1,227.7 147.9,228.0 148.6,228.6 149.4,228.4 150.1,228.9 150.8,229.3 151.5,229.6 152.3,229.9 153.0,230.2 153.3,230.8 153.6,231.5 153.9,232.1 154.2,232.8 154.6,233.4 154.9,234.0 155.2,234.7 155.5,235.3 155.6,236.0 155.6,236.7 155.7,237.4 155.7,238.1 155.8,238.8 155.8,239.5 155.9,240.2 155.9,240.9 156.0,241.6 156.0,242.3 156.1,243.0 156.1,243.7 156.2,244.4 156.2,245.1 156.3,245.8 156.3,246.5 156.4,247.2 156.4,247.9 156.5,248.6 156.5,249.3 156.6,250.0 156.7,250.7 156.7,251.4 156.8,252.2 156.8,252.9 156.8,253.6 156.9,254.3 156.9,255.0 157.0,255.7 157.1,256.4 157.1,257.2 157.2,257.9 157.2,258.6 157.2,259.3 157.3,260.0 157.3,260.8 157.4,261.5 157.5,262.2 157.5,262.9 157.6,263.6 157.6,264.3 157.7,265.1 157.7,265.8 157.8,266.5 157.8,267.2 157.9,266.5 157.9,265.8 158.0,265.1 158.0,264.3 158.1,263.6 158.1,262.9 158.2,262.2 158.2,261.5 158.2,260.8 158.3,260.0 158.3,259.3 158.4,258.6 158.5,257.9 158.5,257.2 158.6,256.4 158.6,255.7 158.7,255.0 158.7,254.3 158.8,253.6 158.8,252.9 158.8,252.2 158.9,251.4 158.9,250.7 159.0,250.0 159.0,249.3 159.1,248.6 159.1,247.9 159.1,247.2 159.2,246.5 159.2,245.8 159.2,245.1 159.3,244.4 159.3,243.7 159.3,243.0 159.4,242.3 159.4,241.6 159.5,240.9 159.5,240.2 159.5,239.5 159.6,238.8 159.6,238.1 159.6,237.4 159.7,236.7 159.7,236.0 159.9,235.3 160.0,234.6 160.2,234.0 160.4,233.3 160.6,232.6 160.7,231.9 160.9,231.2 161.1,230.6 161.2,229.9 161.4,229.2" fill="none" stroke="#ff0000" stroke-width="2.6" stroke-linejoin="round" stroke-linecap="round"/>
<polyline points="161.4,229.2 162.4,229.5 163.3,229.8 164.0,229.6 164.7,229.5 165.5,229.3 166.2,229.2 166.9,229.0 167.6,228.8 168.3,228.7 169.1,228.5 169.8,228.4 170.5,228.2 171.2,228.0 171.9,227.9 172.7,227.7 173.4,227.6 174.1,227.4 174.8,227.4 175.5,227.5 176.3,227.5 177.0,227.5 177.7,227.5 178.4,227.6 179.2,227.6 179.9,227.6 180.6,227.6 181.3,227.7 182.1,227.7 182.8,227.7 183.5,227.8 184.2,227.8 184.9,227.8 185.7,227.8 186.4,227.9 187.1,227.9 187.8,227.9 188.6,227.9 189.3,228.0 190.0,228.0 190.7,228.1 191.4,228.3 192.1,228.4 192.9,228.5 193.6,228.6 194.3,228.8 195.0,228.9 195.7,229.0 196.4,229.2 197.1,229.3 197.9,229.4 198.6,229.5 199.3,229.7 200.0,229.8 200.7,230.0 201.3,230.2 202.0,230.4 202.7,230.6 203.3,230.9 204.0,231.1 204.7,231.3 205.4,231.5 206.0,231.7 206.7,231.9 207.4,232.2 208.1,232.6 208.7,232.9 209.4,233.2 210.1,233.6 210.8,233.9 211.5,234.2 212.1,234.5 212.8,234.9 213.5,235.2 214.2,235.3 214.9,235.5 215.6,235.6 216.4,235.7 217.1,235.8 217.8,236.0 218.5,236.1 219.2,235.9 219.9,235.8 220.7,235.6 221.4,235.5 222.1,235.3 222.8,235.2 223.4,235.7 224.0,236.2 224.6,236.7 225.2,237.1 225.8,237.6 226.4,238.1 227.0,238.6 227.3,239.2 227.6,239.9 227.9,240.5 228.2,241.1 228.6,241.8 228.9,242.4 229.2,243.1 229.5,243.7 229.5,244.4 229.5,245.1 229.6,245.8 229.6,246.5 229.6,247.2 229.6,247.9 229.7,248.6 229.7,249.3 229.7,250.0 229.7,250.7 229.7,251.4 229.8,252.1 229.8,252.8 229.8,253.5 229.8,254.2 229.8,254.9 229.9,255.6 229.9,256.3 229.9,257.0 229.9,257.7 229.9,258.4 230.0,259.2 230.0,259.9 230.0,260.6 230.0,261.3 230.1,262.0 230.1,262.7 230.1,263.4 230.1,264.1 230.1,264.8 230.2,265.5 230.2,266.2 230.2,266.9 230.2,267.6 230.2,268.3 230.3,269.0 230.3,269.7 230.3,270.4 230.3,271.1 230.4,271.8 230.4,272.5 230.4,273.2 230.4,272.5 230.5,271.8 230.5,271.1 230.6,270.4 230.6,269.7 230.6,269.0 230.7,268.3 230.7,267.6 230.8,266.9 230.8,266.2 230.8,265.5 230.9,264.8 230.9,264.1 230.9,263.4 231.0,262.7 231.0,262.0 231.1,261.3 231.1,260.6 231.1,259.9 231.2,259.2 231.2,258.5 231.3,257.8 231.3,257.1 231.3,256.4 231.4,255.7 231.4,255.0 231.5,254.3 231.5,253.6 231.5,252.9 231.6,252.2 231.6,251.5 231.6,250.8 231.7,250.1 231.7,249.4 231.8,248.7 231.8,248.0 231.8,247.3 231.9,246.6 231.9,245.9 232.0,245.2 232.0,244.5 232.9,245.4 232.9,246.1 233.0,246.8 233.0,247.5 233.0,248.3 233.1,249.0 233.1,249.7 233.2,250.4 233.2,251.1 233.2,251.8 233.3,252.5 233.3,253.2 233.3,254.0 233.4,254.7 233.4,255.4 233.5,256.1 233.5,256.8 233.5,257.5 233.6,258.2 233.6,258.9 233.6,259.7 233.7,260.4 233.7,261.1 233.8,261.8 233.8,262.5 233.8,263.2 233.9,263.9 233.9,264.7 233.9,265.4 234.0,266.1 234.0,266.8 234.0,267.5 234.1,268.2 234.1,268.9 234.2,269.6 234.2,270.4 234.2,271.1 234.3,271.8 234.3,272.5 234.3,273.2 234.4,273.9 234.4,274.6 234.5,275.3 234.5,276.1 234.5,276.8 234.6,277.5 234.6,278.2 234.6,277.5 234.7,276.8 234.7,276.1 234.7,275.4 234.8,274.7 234.8,273.9 234.8,273.2 234.9,272.5 234.9,271.8 234.9,271.1 235.0,270.4 235.0,269.7 235.0,269.0 235.1,268.3 235.1,267.6 235.1,266.8 235.2,266.1 235.2,265.4 235.2,264.7 235.3,264.0 235.3,263.3 235.3,262.6 235.4,261.9 235.4,261.2 235.4,260.5 235.5,259.7 235.5,259.0 235.5,258.3 235.6,257.6 235.6,256.9 235.6,256.2 235.7,255.5 235.7,254.8 235.7,254.1 235.8,253.4 235.8,252.6 235.8,251.9 235.9,251.2 235.9,250.5 235.9,249.8 236.0,249.1 236.0,248.4 236.0,247.7 236.1,247.0 236.1,246.3 236.1,245.5 236.2,244.8 236.2,244.1 236.2,243.4 236.3,242.7 236.3,242.0 236.5,241.3 236.7,240.6 236.9,239.9 237.1,239.2 237.3,238.5 237.6,237.8 237.8,237.0 238.0,236.3 238.2,235.6 238.4,234.9 238.6,234.2 238.8,233.5 239.5,233.2 240.2,232.9 240.8,232.5 241.5,232.2 242.2,231.9 242.9,231.6 243.6,231.4 244.3,231.1 245.0,230.9 245.7,230.6 246.4,230.4 247.1,230.1 247.8,229.8 248.5,229.6 249.2,229.3 249.9,229.1 250.6,228.8 251.3,228.7 252.0,228.6 252.7,228.5 253.4,228.4 254.1,228.3 254.8,228.2 255.5,228.1 256.2,228.0 256.9,227.9 257.6,227.8 258.3,227.7 259.0,227.6 259.7,227.6 260.4,227.6 261.1,227.5 261.8,227.5 262.5,227.5 263.2,227.5 263.9,227.5 264.6,227.4 265.3,227.4 266.0,227.4 266.7,227.4 267.4,227.3 268.2,227.3 268.9,227.3 269.6,227.3 270.3,227.3 271.0,227.2 271.7,227.2 272.4,227.2 273.1,227.2 273.8,227.2 274.5,227.1 275.2,227.1 275.9,227.1 276.6,227.1 277.3,227.1 278.0,227.1 278.8,227.1 279.5,227.1 280.2,227.1 280.9,227.1 281.6,227.1 282.3,227.1 283.0,227.2 283.7,227.2 284.5,227.2 285.2,227.2 285.9,227.2 286.6,227.2 287.3,227.2 288.0,227.2 288.7,227.2 289.4,227.2 290.2,227.2 290.9,227.2 291.6,227.2 292.3,227.2 293.0,227.2 293.7,227.2 294.4,227.2 295.1,227.2 295.9,227.2 296.6,227.2 297.3,227.3 298.0,227.3 298.7,227.3 299.4,227.3 300.1,227.3 300.8,227.3 301.6,227.3 302.3,227.3 303.0,227.3 303.7,227.3" fill="none" stroke="#ff0000" stroke-width="2.2" stroke-linejoin="round" stroke-linecap="round"/>
<polyline points="75.5,295.9 75.7,296.6 76.0,297.7 76.2,298.4 76.4,299.7 76.9,300.8 77.5,301.4 78.0,302.0 78.5,302.7 78.8,303.2 79.1,304.0 79.4,305.2 79.7,305.7 80.3,306.6 81.0,306.8 81.7,307.8 82.3,308.2 83.1,308.2 84.0,307.8 84.8,307.4 85.5,308.1 86.2,308.8 86.9,309.5 87.4,309.2 87.9,308.3 88.4,307.9 88.9,307.3 89.4,306.3 89.9,305.7 90.6,305.2 91.3,304.3 92.0,304.0 92.2,303.5 92.4,302.1 92.6,301.5 92.7,300.8 92.9,300.5 93.1,299.2 93.3,298.5 94.0,298.3 94.8,297.7 95.5,297.4 96.3,297.2 97.1,297.9 98.0,297.7 98.8,298.7 99.7,298.7 100.5,299.3 101.0,299.8 101.5,300.4 102.0,301.8 102.4,302.4 102.9,302.6 103.4,304.0 103.9,304.4 104.1,305.2 104.4,306.2 104.6,307.0 104.8,307.7 104.9,308.6 105.1,309.4 105.3,310.2 105.4,310.8 105.6,312.3 105.8,312.7 106.0,314.1 106.1,314.3 106.3,315.4 106.8,315.7 107.3,316.9 107.8,317.1 108.3,317.9 108.8,318.8 109.0,319.3 109.3,320.7 109.5,321.7 109.8,322.0 110.0,322.6 110.3,323.6 110.5,324.9 110.8,325.1 111.0,326.2 111.3,327.2 111.4,327.8 111.6,328.6 111.7,330.1 111.9,331.0 112.0,331.7 112.2,332.5 112.3,333.1 112.4,333.7 112.6,335.1 112.7,335.5 112.9,336.7 113.0,337.3 113.2,338.5 113.4,339.2 113.6,339.8 113.8,341.3 114.0,342.2 114.2,342.7 114.8,343.7 115.5,344.4 116.1,344.2 116.6,343.6 117.2,342.7 117.5,341.6 117.8,341.3 118.1,340.6 118.3,339.5 118.6,339.3 118.9,338.2 119.0,337.7 119.1,336.8 119.2,336.0 119.3,335.1 119.4,334.1 119.5,333.4 119.7,332.3 119.8,331.1 119.9,330.7 120.0,330.0 120.1,328.6 120.2,328.3 120.3,327.2 120.4,326.0 120.5,325.8 120.5,324.7 120.6,324.1 120.7,322.8 120.8,322.5 120.8,321.0 120.9,320.8 121.0,319.6 121.1,319.0 121.2,318.2 121.2,316.9 121.3,316.2 121.4,315.4 121.6,314.3 121.9,313.5 122.1,312.9 122.4,312.1 122.6,311.2 123.1,310.5 123.6,309.5 123.7,308.5 123.8,307.8 123.9,306.9 124.1,305.9 124.2,305.2 124.3,304.8 124.4,303.7 124.5,302.6 124.6,301.9 124.8,300.9 124.9,300.4 125.0,299.3 125.1,298.5 125.9,299.1 126.7,299.3 127.1,300.2 127.5,300.5 127.9,301.9 128.4,302.8 128.8,303.3 129.2,304.0 129.8,304.6 130.5,305.0 131.2,305.3 131.8,306.1 132.0,306.7 132.2,307.3 132.4,308.8 132.7,309.5 132.9,310.4 133.1,310.8 133.8,310.3 134.5,309.7 135.2,309.1 135.6,310.1 136.0,310.3 136.5,311.5 136.9,312.2 137.3,312.9 137.7,311.9 138.2,311.1 138.6,310.7 139.0,309.5 140.1,309.7 141.1,310.3 141.5,309.5 141.9,309.3 142.4,308.1 142.8,307.8 143.2,306.7 143.6,305.8 144.1,305.6 144.5,304.6 144.9,304.0 145.8,304.5 146.6,304.8 147.0,305.2 147.4,306.6 147.9,307.0 148.3,307.3 148.7,308.1 149.1,309.4 149.6,309.5 150.0,310.3 150.4,311.2 151.1,310.5 151.8,310.5 152.5,309.9 153.4,310.6 154.2,310.5 155.1,310.8 155.2,309.7 155.4,309.0 155.5,308.0 155.7,307.4 155.8,306.9 155.9,306.0 156.1,305.4 156.2,304.3 156.4,303.6 156.5,302.6 156.7,302.1 156.8,301.0 157.5,300.0 158.2,299.9 158.9,298.9 159.8,298.9 160.6,299.0 161.5,299.0 162.3,299.1 163.2,299.1 164.0,299.1 164.8,299.2 165.7,299.2 166.6,299.3 167.4,299.3 168.2,299.4 169.1,299.5 169.9,299.6 170.8,299.6 171.6,299.7 172.4,299.8 173.3,299.9 174.1,300.0 175.0,300.1 175.8,300.2 176.6,300.3 177.5,300.3 178.3,300.4 179.2,300.5 180.0,300.6 180.8,300.6 181.6,300.7 182.4,300.7 183.3,300.8 184.1,300.8 184.9,300.9 185.7,300.9 186.5,301.0 187.3,301.0 188.1,301.1 189.0,301.1 189.8,301.2 190.6,301.2 191.4,301.3 192.2,301.3 193.0,301.4 193.9,301.4 194.7,301.5 195.5,301.5 196.3,301.6 197.1,301.6 197.9,301.7 198.7,301.7 199.6,301.8 200.4,301.8 201.2,301.9 202.0,301.9 202.8,302.1 203.6,302.3 204.4,302.5 205.1,302.7 205.9,302.9 206.7,303.1 207.5,303.3 208.3,303.5 209.1,303.7 209.9,303.9 210.6,304.1 211.4,304.3 212.2,304.5 213.0,304.7 213.8,304.9 214.6,305.2 215.4,305.4 216.2,305.6 217.0,305.9 217.8,306.1 218.6,306.3 219.4,306.5 220.3,306.8 221.1,307.0 221.9,307.2 222.7,307.5 223.5,307.7 224.3,307.9 225.1,308.2 225.9,308.4 226.6,308.8 227.4,309.1 228.1,309.5 228.9,309.8 229.6,310.2 230.1,310.9 230.5,311.6 230.9,312.3 231.4,313.0 232.0,312.4 232.6,311.8 233.2,311.1 233.9,310.5 234.5,309.9 235.1,309.3 235.7,308.8 236.3,308.3 236.9,307.8 237.6,307.2 238.2,306.7 238.8,306.2 239.5,306.7 240.2,307.2 240.9,307.7 241.6,308.2 242.2,308.7 242.9,309.2 243.6,309.7 244.3,310.2 245.1,310.6 245.8,311.0 246.6,311.3 247.3,311.7 248.1,312.1 248.8,312.5 249.6,312.8 250.3,313.2 251.1,313.6 251.8,314.0 252.6,314.3 253.3,314.7 254.1,315.1 254.8,315.5 255.6,315.8 256.3,316.2 257.1,316.6 258.0,316.6 258.9,316.6 259.9,316.6 260.8,316.6 261.7,316.6 262.6,316.6 263.3,316.1 263.9,315.6 264.6,315.1 265.3,314.6 266.0,314.1 266.6,313.6 267.3,313.1 268.0,312.6 268.7,312.1 269.3,311.6 270.0,311.1 270.5,310.4 271.0,309.8 271.6,309.1 272.1,308.5 272.6,307.8 273.1,307.2 273.6,306.5 274.2,305.8 274.7,305.2 275.2,304.5 275.7,303.9 276.3,303.2 276.8,302.6 277.3,301.9 278.0,301.3 278.6,300.7 279.3,300.1 279.9,299.5 280.6,298.9 281.2,298.3 281.9,297.7 282.7,297.7 283.6,297.7 284.4,297.7 285.2,297.7 286.0,297.7 286.9,297.7 287.7,297.7 288.5,297.7 289.4,297.7 290.2,297.7 291.0,297.6 291.8,297.5 292.6,297.4 293.4,297.3 294.2,297.2 295.0,297.1 295.8,297.0 296.6,296.9 297.5,296.9 298.3,296.8 299.1,296.7 299.9,296.6 300.7,296.5 301.5,296.4 302.3,296.3 303.1,296.2 303.9,296.1" fill="none" stroke="#000000" stroke-width="2.5" stroke-linejoin="round" stroke-linecap="round"/>
<rect x="50.8" y="20.5" width="284.40" height="332.40" fill="none" stroke="#000" stroke-width="1.3"/>
<line x1="50.80" y1="20.50" x2="50.80" y2="24.30" stroke="#000" stroke-width="1.1"/>
<line x1="50.80" y1="352.90" x2="50.80" y2="348.40" stroke="#000" stroke-width="1.1"/>
<line x1="82.40" y1="20.50" x2="82.40" y2="24.30" stroke="#000" stroke-width="1.1"/>
<line x1="82.40" y1="352.90" x2="82.40" y2="348.40" stroke="#000" stroke-width="1.1"/>
<line x1="114.00" y1="20.50" x2="114.00" y2="24.30" stroke="#000" stroke-width="1.1"/>
<line x1="114.00" y1="352.90" x2="114.00" y2="348.40" stroke="#000" stroke-width="1.1"/>
<line x1="145.60" y1="20.50" x2="145.60" y2="24.30" stroke="#000" stroke-width="1.1"/>
<line x1="145.60" y1="352.90" x2="145.60" y2="348.40" stroke="#000" stroke-width="1.1"/>
<line x1="177.20" y1="20.50" x2="177.20" y2="24.30" stroke="#000" stroke-width="1.1"/>
<line x1="177.20" y1="352.90" x2="177.20" y2="348.40" stroke="#000" stroke-width="1.1"/>
<line x1="208.80" y1="20.50" x2="208.80" y2="24.30" stroke="#000" stroke-width="1.1"/>
<line x1="208.80" y1="352.90" x2="208.80" y2="348.40" stroke="#000" stroke-width="1.1"/>
<line x1="240.40" y1="20.50" x2="240.40" y2="24.30" stroke="#000" stroke-width="1.1"/>
<line x1="240.40" y1="352.90" x2="240.40" y2="348.40" stroke="#000" stroke-width="1.1"/>
<line x1="272.00" y1="20.50" x2="272.00" y2="24.30" stroke="#000" stroke-width="1.1"/>
<line x1="272.00" y1="352.90" x2="272.00" y2="348.40" stroke="#000" stroke-width="1.1"/>
<line x1="303.60" y1="20.50" x2="303.60" y2="24.30" stroke="#000" stroke-width="1.1"/>
<line x1="303.60" y1="352.90" x2="303.60" y2="348.40" stroke="#000" stroke-width="1.1"/>
<line x1="335.20" y1="20.50" x2="335.20" y2="24.30" stroke="#000" stroke-width="1.1"/>
<line x1="335.20" y1="352.90" x2="335.20" y2="348.40" stroke="#000" stroke-width="1.1"/>
<text transform="translate(50.80,13.90) scale(1.13,1)" font-size="9.2" text-anchor="middle" fill="#222">0</text>
<text transform="translate(50.80,364.50) scale(1.13,1)" font-size="9.2" text-anchor="middle" fill="#222">0</text>
<text transform="translate(114.00,13.90) scale(1.13,1)" font-size="9.2" text-anchor="middle" fill="#222">1000</text>
<text transform="translate(114.00,364.50) scale(1.13,1)" font-size="9.2" text-anchor="middle" fill="#222">1000</text>
<text transform="translate(177.20,13.90) scale(1.13,1)" font-size="9.2" text-anchor="middle" fill="#222">2000</text>
<text transform="translate(177.20,364.50) scale(1.13,1)" font-size="9.2" text-anchor="middle" fill="#222">2000</text>
<text transform="translate(240.40,13.90) scale(1.13,1)" font-size="9.2" text-anchor="middle" fill="#222">3000</text>
<text transform="translate(240.40,364.50) scale(1.13,1)" font-size="9.2" text-anchor="middle" fill="#222">3000</text>
<text transform="translate(303.60,13.90) scale(1.13,1)" font-size="9.2" text-anchor="middle" fill="#222">4000</text>
<text transform="translate(303.60,364.50) scale(1.13,1)" font-size="9.2" text-anchor="middle" fill="#222">4000</text>
<line x1="50.80" y1="29.40" x2="56.80" y2="29.40" stroke="#000" stroke-width="1.1"/>
<line x1="335.20" y1="29.40" x2="329.20" y2="29.40" stroke="#000" stroke-width="1.1"/>
<text transform="translate(45.00,31.90) scale(1.13,1)" font-size="9.2" text-anchor="end" fill="#222">0.99</text>
<line x1="50.80" y1="45.50" x2="56.80" y2="45.50" stroke="#000" stroke-width="1.1"/>
<line x1="335.20" y1="45.50" x2="329.20" y2="45.50" stroke="#000" stroke-width="1.1"/>
<text transform="translate(45.00,48.00) scale(1.13,1)" font-size="9.2" text-anchor="end" fill="#222">0.88</text>
<line x1="50.80" y1="62.00" x2="56.80" y2="62.00" stroke="#000" stroke-width="1.1"/>
<line x1="335.20" y1="62.00" x2="329.20" y2="62.00" stroke="#000" stroke-width="1.1"/>
<text transform="translate(45.00,64.50) scale(1.13,1)" font-size="9.2" text-anchor="end" fill="#222">0.77</text>
<line x1="50.80" y1="78.20" x2="56.80" y2="78.20" stroke="#000" stroke-width="1.1"/>
<line x1="335.20" y1="78.20" x2="329.20" y2="78.20" stroke="#000" stroke-width="1.1"/>
<text transform="translate(45.00,80.70) scale(1.13,1)" font-size="9.2" text-anchor="end" fill="#222">0.66</text>
<line x1="50.80" y1="37.60" x2="54.00" y2="37.60" stroke="#000" stroke-width="1.1"/>
<line x1="335.20" y1="37.60" x2="332.00" y2="37.60" stroke="#000" stroke-width="1.1"/>
<line x1="50.80" y1="53.70" x2="54.00" y2="53.70" stroke="#000" stroke-width="1.1"/>
<line x1="335.20" y1="53.70" x2="332.00" y2="53.70" stroke="#000" stroke-width="1.1"/>
<line x1="50.80" y1="70.00" x2="54.00" y2="70.00" stroke="#000" stroke-width="1.1"/>
<line x1="335.20" y1="70.00" x2="332.00" y2="70.00" stroke="#000" stroke-width="1.1"/>
<line x1="50.80" y1="86.20" x2="54.00" y2="86.20" stroke="#000" stroke-width="1.1"/>
<line x1="335.20" y1="86.20" x2="332.00" y2="86.20" stroke="#000" stroke-width="1.1"/>
<line x1="50.80" y1="99.30" x2="56.80" y2="99.30" stroke="#000" stroke-width="1.1"/>
<line x1="335.20" y1="99.30" x2="329.20" y2="99.30" stroke="#000" stroke-width="1.1"/>
<text transform="translate(45.00,101.80) scale(1.13,1)" font-size="9.2" text-anchor="end" fill="#222">0.98</text>
<line x1="50.80" y1="116.70" x2="56.80" y2="116.70" stroke="#000" stroke-width="1.1"/>
<line x1="335.20" y1="116.70" x2="329.20" y2="116.70" stroke="#000" stroke-width="1.1"/>
<text transform="translate(45.00,119.20) scale(1.13,1)" font-size="9.2" text-anchor="end" fill="#222">0.84</text>
<line x1="50.80" y1="133.30" x2="56.80" y2="133.30" stroke="#000" stroke-width="1.1"/>
<line x1="335.20" y1="133.30" x2="329.20" y2="133.30" stroke="#000" stroke-width="1.1"/>
<text transform="translate(45.00,135.80) scale(1.13,1)" font-size="9.2" text-anchor="end" fill="#222">0.70</text>
<line x1="50.80" y1="150.80" x2="56.80" y2="150.80" stroke="#000" stroke-width="1.1"/>
<line x1="335.20" y1="150.80" x2="329.20" y2="150.80" stroke="#000" stroke-width="1.1"/>
<text transform="translate(45.00,153.30) scale(1.13,1)" font-size="9.2" text-anchor="end" fill="#222">0.56</text>
<line x1="50.80" y1="90.60" x2="54.00" y2="90.60" stroke="#000" stroke-width="1.1"/>
<line x1="335.20" y1="90.60" x2="332.00" y2="90.60" stroke="#000" stroke-width="1.1"/>
<line x1="50.80" y1="108.00" x2="54.00" y2="108.00" stroke="#000" stroke-width="1.1"/>
<line x1="335.20" y1="108.00" x2="332.00" y2="108.00" stroke="#000" stroke-width="1.1"/>
<line x1="50.80" y1="125.30" x2="54.00" y2="125.30" stroke="#000" stroke-width="1.1"/>
<line x1="335.20" y1="125.30" x2="332.00" y2="125.30" stroke="#000" stroke-width="1.1"/>
<line x1="50.80" y1="142.10" x2="54.00" y2="142.10" stroke="#000" stroke-width="1.1"/>
<line x1="335.20" y1="142.10" x2="332.00" y2="142.10" stroke="#000" stroke-width="1.1"/>
<line x1="50.80" y1="160.90" x2="56.80" y2="160.90" stroke="#000" stroke-width="1.1"/>
<line x1="335.20" y1="160.90" x2="329.20" y2="160.90" stroke="#000" stroke-width="1.1"/>
<text transform="translate(45.00,163.40) scale(1.13,1)" font-size="9.2" text-anchor="end" fill="#222">0.984</text>
<line x1="50.80" y1="177.50" x2="56.80" y2="177.50" stroke="#000" stroke-width="1.1"/>
<line x1="335.20" y1="177.50" x2="329.20" y2="177.50" stroke="#000" stroke-width="1.1"/>
<text transform="translate(45.00,180.00) scale(1.13,1)" font-size="9.2" text-anchor="end" fill="#222">0.902</text>
<line x1="50.80" y1="194.40" x2="56.80" y2="194.40" stroke="#000" stroke-width="1.1"/>
<line x1="335.20" y1="194.40" x2="329.20" y2="194.40" stroke="#000" stroke-width="1.1"/>
<text transform="translate(45.00,196.90) scale(1.13,1)" font-size="9.2" text-anchor="end" fill="#222">0.820</text>
<line x1="50.80" y1="211.10" x2="56.80" y2="211.10" stroke="#000" stroke-width="1.1"/>
<line x1="335.20" y1="211.10" x2="329.20" y2="211.10" stroke="#000" stroke-width="1.1"/>
<text transform="translate(45.00,213.60) scale(1.13,1)" font-size="9.2" text-anchor="end" fill="#222">0.738</text>
<line x1="50.80" y1="169.10" x2="54.00" y2="169.10" stroke="#000" stroke-width="1.1"/>
<line x1="335.20" y1="169.10" x2="332.00" y2="169.10" stroke="#000" stroke-width="1.1"/>
<line x1="50.80" y1="186.20" x2="54.00" y2="186.20" stroke="#000" stroke-width="1.1"/>
<line x1="335.20" y1="186.20" x2="332.00" y2="186.20" stroke="#000" stroke-width="1.1"/>
<line x1="50.80" y1="202.80" x2="54.00" y2="202.80" stroke="#000" stroke-width="1.1"/>
<line x1="335.20" y1="202.80" x2="332.00" y2="202.80" stroke="#000" stroke-width="1.1"/>
<line x1="50.80" y1="219.40" x2="54.00" y2="219.40" stroke="#000" stroke-width="1.1"/>
<line x1="335.20" y1="219.40" x2="332.00" y2="219.40" stroke="#000" stroke-width="1.1"/>
<line x1="50.80" y1="233.30" x2="56.80" y2="233.30" stroke="#000" stroke-width="1.1"/>
<line x1="335.20" y1="233.30" x2="329.20" y2="233.30" stroke="#000" stroke-width="1.1"/>
<text transform="translate(45.00,235.80) scale(1.13,1)" font-size="9.2" text-anchor="end" fill="#222">0.92</text>
<line x1="50.80" y1="250.10" x2="56.80" y2="250.10" stroke="#000" stroke-width="1.1"/>
<line x1="335.20" y1="250.10" x2="329.20" y2="250.10" stroke="#000" stroke-width="1.1"/>
<text transform="translate(45.00,252.60) scale(1.13,1)" font-size="9.2" text-anchor="end" fill="#222">0.69</text>
<line x1="50.80" y1="266.70" x2="56.80" y2="266.70" stroke="#000" stroke-width="1.1"/>
<line x1="335.20" y1="266.70" x2="329.20" y2="266.70" stroke="#000" stroke-width="1.1"/>
<text transform="translate(45.00,269.20) scale(1.13,1)" font-size="9.2" text-anchor="end" fill="#222">0.46</text>
<line x1="50.80" y1="284.30" x2="56.80" y2="284.30" stroke="#000" stroke-width="1.1"/>
<line x1="335.20" y1="284.30" x2="329.20" y2="284.30" stroke="#000" stroke-width="1.1"/>
<text transform="translate(45.00,286.80) scale(1.13,1)" font-size="9.2" text-anchor="end" fill="#222">0.23</text>
<line x1="50.80" y1="224.90" x2="54.00" y2="224.90" stroke="#000" stroke-width="1.1"/>
<line x1="335.20" y1="224.90" x2="332.00" y2="224.90" stroke="#000" stroke-width="1.1"/>
<line x1="50.80" y1="241.70" x2="54.00" y2="241.70" stroke="#000" stroke-width="1.1"/>
<line x1="335.20" y1="241.70" x2="332.00" y2="241.70" stroke="#000" stroke-width="1.1"/>
<line x1="50.80" y1="258.50" x2="54.00" y2="258.50" stroke="#000" stroke-width="1.1"/>
<line x1="335.20" y1="258.50" x2="332.00" y2="258.50" stroke="#000" stroke-width="1.1"/>
<line x1="50.80" y1="275.40" x2="54.00" y2="275.40" stroke="#000" stroke-width="1.1"/>
<line x1="335.20" y1="275.40" x2="332.00" y2="275.40" stroke="#000" stroke-width="1.1"/>
<line x1="50.80" y1="288.30" x2="56.80" y2="288.30" stroke="#000" stroke-width="1.1"/>
<line x1="335.20" y1="288.30" x2="329.20" y2="288.30" stroke="#000" stroke-width="1.1"/>
<text transform="translate(45.00,294.70) scale(1.13,1)" font-size="9.2" text-anchor="end" fill="#222">1.026</text>
<line x1="50.80" y1="304.70" x2="56.80" y2="304.70" stroke="#000" stroke-width="1.1"/>
<line x1="335.20" y1="304.70" x2="329.20" y2="304.70" stroke="#000" stroke-width="1.1"/>
<text transform="translate(45.00,311.10) scale(1.13,1)" font-size="9.2" text-anchor="end" fill="#222">0.972</text>
<line x1="50.80" y1="321.20" x2="56.80" y2="321.20" stroke="#000" stroke-width="1.1"/>
<line x1="335.20" y1="321.20" x2="329.20" y2="321.20" stroke="#000" stroke-width="1.1"/>
<text transform="translate(45.00,327.60) scale(1.13,1)" font-size="9.2" text-anchor="end" fill="#222">0.918</text>
<line x1="50.80" y1="337.80" x2="56.80" y2="337.80" stroke="#000" stroke-width="1.1"/>
<line x1="335.20" y1="337.80" x2="329.20" y2="337.80" stroke="#000" stroke-width="1.1"/>
<text transform="translate(45.00,344.20) scale(1.13,1)" font-size="9.2" text-anchor="end" fill="#222">0.864</text>
<line x1="50.80" y1="296.50" x2="54.00" y2="296.50" stroke="#000" stroke-width="1.1"/>
<line x1="335.20" y1="296.50" x2="332.00" y2="296.50" stroke="#000" stroke-width="1.1"/>
<line x1="50.80" y1="312.90" x2="54.00" y2="312.90" stroke="#000" stroke-width="1.1"/>
<line x1="335.20" y1="312.90" x2="332.00" y2="312.90" stroke="#000" stroke-width="1.1"/>
<line x1="50.80" y1="329.60" x2="54.00" y2="329.60" stroke="#000" stroke-width="1.1"/>
<line x1="335.20" y1="329.60" x2="332.00" y2="329.60" stroke="#000" stroke-width="1.1"/>
<line x1="50.80" y1="346.40" x2="54.00" y2="346.40" stroke="#000" stroke-width="1.1"/>
<line x1="335.20" y1="346.40" x2="332.00" y2="346.40" stroke="#000" stroke-width="1.1"/>
<rect x="62.50" y="64.50" width="19.00" height="14.00" fill="#fff" stroke="#6a6a6a" stroke-width="1"/>
<text transform="translate(64.75,76.05) scale(1.1217,1)" font-size="11.71" font-weight="normal" fill="#222">F2</text>
<rect x="54.50" y="136.50" width="55.00" height="13.00" fill="#fff" stroke="#6a6a6a" stroke-width="1"/>
<text transform="translate(58.84,147.05) scale(1.1294,1)" font-size="11.74" font-weight="normal" fill="#222">Piperine</text>
<rect x="132.50" y="187.50" width="31.00" height="13.00" fill="#fff" stroke="#6a6a6a" stroke-width="1"/>
<text transform="translate(135.53,197.95) scale(1.1494,1)" font-size="11.74" font-weight="normal" fill="#222">TPP</text>
<rect x="56.50" y="264.50" width="75.00" height="14.00" fill="#fff" stroke="#6a6a6a" stroke-width="1"/>
<text transform="translate(60.61,275.74) scale(1.1852,1)" font-size="10.99" font-weight="normal" fill="#222">Stearic acid</text>
<rect x="53.50" y="331.50" width="50.00" height="12.00" fill="#fff" stroke="#6a6a6a" stroke-width="1"/>
<text transform="translate(57.04,340.97) scale(1.3744,1)" font-size="8.17" font-weight="normal" fill="#222">Chitosan</text>
<text transform="translate(12.95,236.83) rotate(-90) scale(1,1.3174)" font-size="11.61" fill="#222">Transmittance %</text>
<text transform="translate(135.73,384.25) scale(1.1567,1)" font-size="11.45" fill="#222">Wavenumber (cm</text>
<text transform="translate(240.20,379.30) scale(0.7188,1)" font-size="6.09" font-weight="normal" fill="#222">-1</text>
<text transform="translate(245.93,384.60) scale(1.2601,1)" font-size="10.48" font-weight="normal" fill="#222">)</text>
<text transform="translate(170.78,410.83) scale(0.9448,1)" font-size="14.39" font-weight="normal" fill="#222">(a)</text>
<polyline points="432.2,33.1 432.5,33.9 432.8,35.3 433.1,35.7 433.4,36.2 433.7,37.4 434.2,38.5 434.8,38.7 435.3,39.6 435.9,41.0 437.3,41.8 437.6,43.0 437.9,44.2 438.2,44.8 438.6,45.1 438.9,46.5 439.2,47.0 439.5,48.3 439.8,46.8 440.0,46.4 440.2,45.6 440.5,44.7 440.6,45.6 440.7,46.5 440.8,48.1 440.9,48.9 441.1,49.2 441.2,50.1 441.3,51.6 441.4,52.6 441.5,53.7 441.6,54.1 442.1,54.5 442.5,56.6 442.9,57.8 443.4,58.2 444.4,58.2 445.3,59.5 446.3,59.1 447.2,60.7 448.2,60.6 449.3,60.4 450.4,60.7 451.4,61.9 452.5,61.8 453.4,62.1 454.3,61.9 455.2,62.0 456.1,62.2 457.0,62.5 457.9,63.6 458.8,63.1 459.7,63.5 460.0,62.3 460.2,62.2 460.5,60.4 460.8,60.0 461.0,60.6 461.2,62.2 461.3,62.5 461.5,63.2 461.7,64.6 462.7,64.3 463.6,64.4 464.6,65.1 465.6,64.5 465.7,63.7 465.7,62.3 465.8,62.2 465.9,60.5 466.0,60.1 466.0,58.5 466.1,58.4 466.2,56.9 466.2,55.5 466.3,54.9 466.4,53.9 466.5,53.4 466.5,52.0 466.6,50.9 466.7,50.6 466.8,49.7 466.8,49.1 466.9,47.7 467.0,48.0 467.0,49.4 467.1,50.0 467.2,51.4 467.3,52.0 467.3,53.7 467.4,54.2 467.5,54.5 467.6,55.2 467.6,56.9 467.7,57.0 467.8,58.5 467.9,59.2 467.9,59.8 468.0,61.5 468.1,62.4 468.2,63.4 468.2,63.7 468.3,64.8 468.9,64.5 469.4,63.2 469.9,63.0 470.5,61.8 471.0,63.0 471.5,64.0 472.0,65.0 473.1,64.6 474.2,65.8 475.3,65.6 476.4,65.5 477.3,65.1 478.1,64.1 479.0,63.5 479.4,62.0 479.8,60.9 480.2,60.5 480.6,59.7 481.0,58.5 482.5,57.6 482.8,58.6 483.1,59.1 483.4,60.0 483.7,60.8 484.0,62.0 484.8,62.0 485.7,60.9 486.5,60.5 486.6,59.4 486.6,58.3 486.7,58.1 486.7,57.2 486.8,55.9 486.9,54.5 486.9,54.4 487.0,53.3 487.0,51.8 487.1,51.1 487.1,49.9 487.2,49.5 487.3,48.2 487.3,48.0 487.4,46.0 487.4,46.0 487.5,44.9 487.6,43.5 487.6,42.2 487.7,41.8 487.7,41.3 487.8,40.0 487.9,38.6 487.9,38.3 488.0,37.4 488.1,36.7 488.1,35.6 488.2,34.4 488.3,32.9 488.3,32.8 488.4,31.4 488.4,30.9 488.5,29.9 488.6,28.7 488.6,28.4 488.7,27.5 488.8,25.6 488.8,25.3 488.9,24.2 488.9,25.0 489.0,26.5 489.0,27.5 489.1,28.1 489.1,29.1 489.1,29.9 489.2,30.3 489.2,32.1 489.3,32.5 489.3,33.2 489.3,34.8 489.4,34.8 489.4,36.2 489.4,37.1 489.5,38.4 489.5,39.3 489.6,39.7 489.6,40.4 489.6,41.7 489.7,43.0 489.7,44.1 489.8,45.0 489.8,45.1 489.8,46.1 489.9,47.4 489.9,48.6 490.0,48.9 490.0,50.0 490.4,49.4 490.7,47.7 491.1,47.1 491.2,48.6 491.3,49.1 491.4,49.9 491.5,51.0 491.5,52.3 491.6,52.6 491.7,53.7 491.8,54.8 491.9,55.5 492.0,57.0 492.1,57.1 492.1,57.8 492.2,59.6 492.3,60.1 492.4,60.7 492.5,62.0 493.5,63.3 494.5,63.5 494.7,62.9 494.8,61.3 495.0,60.9 495.1,59.6 495.3,58.3 495.5,57.4 495.6,56.6 495.8,56.0 495.9,55.0 496.1,53.9 496.2,53.0 496.4,51.6 496.6,51.2 496.7,50.4 496.9,49.4 497.0,48.0 497.1,49.2 497.2,50.4 497.2,50.6 497.3,51.4 497.4,53.2 497.5,53.3 497.6,54.3 497.6,55.9 497.7,56.8 497.8,57.3 497.9,57.7 498.0,59.5 498.1,60.7 498.1,61.1 498.2,62.1 498.3,63.0 499.4,63.4 500.5,64.5 500.6,63.1 500.8,62.7 500.9,61.7 501.1,60.3 501.2,60.2 501.4,59.3 501.5,57.4 501.7,56.9 501.8,56.0 502.0,54.8 502.1,54.0 502.3,53.1 502.5,52.2 502.7,50.6 502.8,50.3 503.0,49.0 503.1,49.6 503.2,50.9 503.2,52.3 503.3,53.0 503.4,53.8 503.5,54.7 503.6,56.1 503.6,56.2 503.7,57.7 503.8,58.8 503.9,59.8 504.0,60.5 504.1,61.5 504.1,62.4 504.2,62.9 504.3,64.0 505.1,64.2 505.8,65.5 506.7,65.4 507.6,64.7 508.6,64.9 509.5,64.5 509.7,63.7 509.9,62.5 510.2,62.1 510.4,60.5 510.7,61.7 510.9,63.1 511.2,63.6 511.5,64.5 512.6,64.1 513.6,63.8 514.7,64.2 515.7,64.0 516.8,64.2 517.9,64.4 519.0,65.1 520.1,65.3 521.2,64.9 522.1,65.5 523.0,65.4 523.9,64.9 524.8,65.2 525.7,65.4 526.6,66.2 527.5,66.7 528.4,66.4 529.4,66.4 530.3,66.2 531.3,66.6 532.3,66.1 533.3,66.2 534.2,66.1 535.2,66.4 536.2,66.0 537.2,66.4 538.1,66.9 539.1,67.2 540.1,66.2 541.1,66.7 542.1,67.4 543.0,66.9 544.0,67.2 545.0,67.0 545.9,67.5 546.8,67.0 547.7,66.9 548.7,66.4 549.6,66.7 550.5,66.5 551.4,66.5 552.5,66.6 553.5,67.0 554.6,67.4 555.6,67.8 556.7,67.4 557.7,67.2 558.8,65.9 559.8,65.9 560.7,66.6 561.6,66.5 562.5,67.3 563.5,67.6 564.4,68.1 565.3,67.9 566.2,68.6 567.2,69.2 568.1,68.3 569.1,68.7 570.1,69.3 571.0,69.3 572.0,68.9 572.9,69.6 573.9,69.5 574.9,69.5 575.8,70.3 576.8,70.1 577.7,69.6 578.6,70.6 579.6,70.6 580.5,70.2 581.4,70.7 582.3,70.6 583.3,70.2 584.2,70.8 585.1,70.4 586.0,70.1 586.9,70.1 587.9,70.8 588.8,70.9 589.7,71.1 590.6,70.5 591.5,70.4 592.5,71.2 593.4,70.7 594.3,70.8 595.2,70.9 596.2,71.4 597.1,71.7 598.0,71.2 598.9,71.7 599.8,71.6 600.7,71.0 601.6,71.8 602.5,71.0 603.4,71.1 604.3,71.2 605.2,71.0 606.2,71.7 607.1,71.8 608.0,71.0 608.9,71.9 609.8,70.8 610.7,71.5 611.6,72.0 612.5,71.8 613.4,71.5 614.3,71.0 615.2,71.8 616.1,71.0 617.0,71.1 617.9,71.8 618.8,71.3 619.7,71.6 620.6,71.5 621.5,72.2 622.5,71.7 623.4,71.9 624.3,72.2 625.2,72.1 626.1,72.2 627.0,72.1 627.9,72.3 628.8,71.8 629.7,71.8 630.6,72.2 631.5,71.7 632.4,72.1 633.3,71.7 634.2,71.5 635.2,71.6 636.1,71.4 637.0,71.5 637.9,72.3 638.8,71.4 639.7,72.1 640.6,71.4 641.5,71.6 642.4,71.7 643.3,72.2 644.2,71.7 645.2,71.7 646.1,71.9 647.0,72.5 647.9,71.8 648.8,72.6 649.7,72.2 650.6,72.1 651.5,71.6 652.4,72.6 653.3,72.3 654.2,72.0 655.2,72.4 656.1,71.7 657.0,72.1 657.9,72.6 658.8,71.9 659.7,72.1 660.6,72.8 661.5,72.5 662.4,72.1 663.3,72.0 664.2,71.8 665.1,72.8 666.1,71.9 667.0,72.7 667.9,72.5 668.8,73.0 669.7,72.9 670.6,72.9 671.5,73.0 672.4,72.9 673.3,72.6 674.2,72.2 675.1,72.4 676.1,72.1 677.0,72.6 677.9,72.5 678.8,72.2 679.7,72.6 680.6,72.7" fill="none" stroke="#800080" stroke-width="1.9" stroke-linejoin="round" stroke-linecap="round"/>
<polyline points="432.2,136.8 433.2,137.2 434.3,137.5 435.3,137.9 436.4,138.2 437.4,138.6 438.5,138.9 439.5,139.3 440.5,139.5 441.6,139.7 442.6,139.9 443.6,140.1 444.6,140.3 445.7,140.5 446.7,140.7 447.7,140.7 448.8,140.7 449.8,140.7 450.8,140.7 451.8,140.7 452.9,140.7 453.9,140.7 455.1,140.6 456.2,140.4 457.4,140.3 458.5,140.1 459.7,140.0 461.2,105.3 462.3,140.0 463.6,140.3 464.8,140.7 465.8,124.1 467.3,107.4 468.4,134.2 469.9,140.0 471.0,132.8 472.5,140.0 473.5,140.1 474.6,140.2 475.6,140.3 476.6,140.3 477.6,140.4 478.6,140.5 479.7,140.6 480.7,140.7 481.9,90.1 482.9,128.4 484.3,140.0 485.4,138.7 486.5,137.4 487.6,136.2 488.7,134.9 489.8,137.1 490.8,139.3 492.6,119.0 493.7,140.0 494.8,139.1 495.9,138.2 496.9,137.3 498.0,136.4 499.5,140.0 503.4,116.1 504.8,140.7 506.0,139.6 507.2,140.7 508.4,139.4 509.6,140.7 511.1,130.6 512.2,140.7 513.5,139.5 514.8,138.2 516.1,137.1 517.6,140.7 518.7,140.1 519.8,140.5 520.8,140.6 521.9,140.6 523.0,140.8 524.1,140.7 525.2,140.2 526.2,140.5 527.3,140.6 528.4,140.7 529.4,139.0 530.5,138.5 531.5,139.7 532.6,139.3 533.6,138.9 534.7,138.5 535.7,138.3 537.1,140.7 538.3,140.6 539.5,140.9 540.7,140.8 541.9,140.7 542.9,126.7 544.0,140.7 545.0,140.8 546.0,140.0 547.0,140.7 548.0,141.0 549.0,140.8 550.0,140.8 551.0,140.8 552.0,140.8 553.0,141.1 554.0,141.0 555.0,141.1 556.0,140.0 557.0,141.1 558.0,140.8 559.0,141.3 560.0,141.2 561.0,141.1 562.0,141.2 563.0,141.2 564.0,140.1 565.1,139.1 566.2,140.1 567.2,141.2 568.3,141.2 569.3,141.2 570.4,141.2 571.5,141.2 572.5,141.2 573.6,141.2 574.7,141.2 575.7,141.2 576.8,141.2 578.5,137.0 580.0,141.2 581.0,141.2 582.0,141.2 583.0,141.2 584.0,141.2 585.0,141.2 586.0,141.2 587.0,141.2 588.0,141.2 589.0,141.2 590.0,141.2 591.0,141.2 592.0,141.2 593.0,141.2 594.0,141.2 595.0,141.2 596.0,141.2 597.0,141.2 598.0,141.2 599.0,141.2 600.1,140.1 601.1,141.6 602.1,141.6 603.1,141.6 604.1,141.6 605.1,141.6 606.1,141.6 607.1,141.6 608.1,141.6 609.1,141.6 610.1,141.6 611.1,141.5 612.1,141.5 613.1,141.5 614.1,141.5 615.1,141.5 616.1,141.5 617.1,141.5 618.1,141.5 619.1,141.5 620.1,141.5 621.1,141.5 622.1,141.5 623.1,141.5 624.1,141.5 625.1,141.5 626.1,141.5 627.1,141.5 628.1,141.5 629.1,141.4 630.1,141.4 631.1,141.4 632.1,141.4 633.1,141.4 634.1,141.4 635.1,141.4 636.1,141.4 637.1,141.4 638.2,141.4 639.2,141.4 640.2,141.4 641.2,141.4 642.2,141.4 643.2,141.4 644.2,141.4 645.2,141.4 646.2,141.4 647.2,141.3 648.2,141.3 649.2,141.3 650.2,141.3 651.2,141.3 652.2,141.3 653.2,141.3 654.2,141.3 655.2,141.3 656.2,141.3 657.2,141.3 658.2,141.3 659.2,141.3 660.2,141.3 661.2,141.3 662.2,141.3 663.2,141.3 664.2,141.3 665.2,141.2 666.2,141.2 667.2,141.2 668.2,141.2 669.2,141.2 670.2,141.2 671.2,141.2 672.2,141.2 673.2,141.2 674.2,141.2 675.3,141.3 676.3,141.4 677.4,141.5 678.5,141.6 679.5,141.7 680.6,141.8" fill="none" stroke="#8000ff" stroke-width="1.8" stroke-linejoin="round" stroke-linecap="round"/>
<polyline points="432.3,164.7 433.2,167.1 434.2,169.6 435.1,172.0 436.0,174.8 437.0,177.5 437.9,180.3 438.8,182.7 439.7,185.2 440.6,187.6 441.5,189.5 442.5,191.3 443.4,193.2 444.3,194.3 445.2,194.6 446.1,195.9 447.0,185.8 447.9,196.5 448.8,196.2 449.8,195.8 450.7,198.1 451.6,198.4 452.5,198.7 453.5,197.8 454.4,197.0 455.3,199.2 455.8,192.2 456.5,200.0 457.6,198.7 458.8,199.4 459.9,201.4 460.9,201.0 462.0,201.9 463.1,200.8 464.1,203.3 464.5,194.6 465.2,203.5 466.2,203.3 467.1,204.3 468.1,203.1 469.1,204.2 470.0,203.7 470.9,204.2 471.9,204.2 472.8,203.0 473.7,204.9 474.6,205.1 476.0,204.2 477.3,203.3 478.3,195.9 479.7,188.6 480.3,200.0 481.0,186.7 481.5,198.0 481.9,167.4 482.6,190.0 483.8,155.1 484.7,195.9 485.6,205.1 487.4,204.2 489.6,188.2 490.7,205.1 491.7,204.2 492.8,204.7 493.8,203.9 494.8,203.3 496.0,203.8 497.2,204.7 498.4,205.1 499.3,204.8 500.2,205.6 501.2,205.8 502.1,206.0 503.0,204.0 504.0,205.6 504.9,204.4 505.8,205.1 506.8,204.0 507.8,201.1 508.8,199.4 509.8,199.6 511.3,205.1 513.7,183.1 515.0,203.3 516.8,194.1 518.6,204.2 521.9,188.6 523.2,201.4 524.7,163.2 526.0,203.3 527.5,186.7 528.7,204.2 531.1,196.8 533.3,205.1 536.1,195.0 537.0,205.1 538.3,185.3 539.8,205.1 540.9,201.9 542.0,198.6 543.1,197.4 544.4,206.0 545.3,204.5 546.2,204.5 547.1,205.1 548.1,204.7 549.0,201.7 549.9,203.3 550.9,203.7 551.9,205.2 553.0,204.9 554.0,206.0 555.0,206.9 556.0,206.4 557.0,205.9 558.6,204.2 560.3,206.5 561.3,202.7 562.2,202.1 563.2,199.1 564.3,202.0 566.0,200.3 567.1,207.0 568.0,206.4 568.9,205.1 569.8,206.8 570.7,205.4 571.6,206.5 572.8,207.2 573.9,207.6 574.8,205.5 575.8,207.2 576.7,205.5 577.7,205.3 578.6,207.5 579.5,207.0 580.5,206.7 581.4,207.4 582.4,205.2 583.3,206.8 584.3,207.5 585.2,207.0 586.1,207.1 587.1,207.4 588.0,206.8 589.0,207.2 589.9,206.9 590.9,205.9 591.8,206.8 592.7,205.1 593.7,206.9 594.6,207.0 595.6,206.8 596.5,206.5 597.4,206.0 598.4,206.2 599.3,206.5 600.2,206.4 601.1,205.1 602.1,206.1 603.0,205.2 603.9,204.6 604.8,205.8 605.8,204.4 606.7,205.9 607.8,206.0 608.9,205.7 610.0,205.8 610.9,203.6 611.9,203.2 612.8,202.4 614.5,207.0 615.5,207.0 616.4,206.5 617.4,206.9 618.4,207.3 619.4,206.7 620.3,205.7 621.3,207.9 622.2,208.1 623.2,206.9 624.1,208.3 625.1,207.0 626.0,208.3 627.0,206.8 627.9,207.9 628.8,208.2 629.8,208.1 630.7,207.9 631.7,207.9 632.6,208.1 633.5,207.9 634.4,207.6 635.3,206.6 636.2,207.6 637.1,207.3 638.0,207.5 638.9,207.7 639.8,207.0 640.7,205.7 641.6,207.0 642.5,207.2 643.4,207.1 644.3,207.0 645.2,207.2 646.1,207.3 647.0,207.1 647.9,207.0 648.9,207.6 649.8,205.8 650.7,208.1 651.6,208.0 652.5,207.6 653.4,208.3 654.3,206.1 655.2,208.1 656.1,207.4 657.0,207.8 657.9,206.6 658.8,207.8 659.7,207.5 660.6,208.3 661.6,206.7 662.5,208.2 663.4,208.4 664.3,208.3 665.2,208.3 666.1,208.2 667.0,208.3 667.9,208.1 668.8,208.4 669.7,208.6 670.6,208.6 671.5,208.3 672.4,208.7 673.3,208.1 674.2,208.2 675.2,208.4 676.1,208.0 677.0,207.0 677.9,209.0 678.8,208.8 679.7,208.1 680.6,208.6" fill="none" stroke="#ff0000" stroke-width="1.8" stroke-linejoin="round" stroke-linecap="round"/>
<polyline points="432.5,275.3 432.7,274.1 432.9,273.4 433.1,272.0 433.2,270.9 433.4,270.3 433.6,269.1 433.8,270.1 434.0,270.9 434.2,272.2 434.4,272.6 434.6,273.6 434.8,274.8 435.7,274.8 436.7,274.6 437.6,274.5 438.5,273.8 439.5,273.8 440.4,273.6 440.4,272.7 440.4,271.7 440.5,270.7 440.5,270.2 440.5,269.4 440.5,268.2 440.5,267.0 440.6,266.3 440.6,265.2 440.6,264.3 440.6,263.6 440.7,262.4 440.7,261.6 440.7,260.6 440.7,259.6 440.7,259.3 440.8,258.2 440.8,256.9 440.8,256.5 440.8,255.5 440.8,254.4 440.9,253.8 440.9,252.4 440.9,251.6 440.9,250.5 441.0,250.0 441.0,248.8 441.0,248.1 441.0,247.1 441.0,246.1 441.1,245.1 441.1,244.1 441.1,243.5 441.1,244.1 441.2,245.4 441.2,245.9 441.2,247.0 441.3,247.7 441.3,248.7 441.3,249.7 441.4,250.5 441.4,251.6 441.4,252.3 441.5,253.5 441.5,254.5 441.5,255.5 441.6,255.9 441.6,257.5 441.6,257.9 441.7,259.3 441.7,260.0 441.7,260.7 441.8,261.5 441.8,262.3 441.8,263.3 441.9,264.5 441.9,265.6 441.9,266.3 442.0,267.1 442.0,268.1 442.0,269.3 442.1,270.2 442.1,270.7 442.1,271.4 442.2,272.6 442.2,273.6 443.2,273.7 444.2,273.0 445.2,273.0 446.3,273.0 447.3,273.0 448.3,272.9 449.2,272.5 450.1,273.0 451.0,272.7 451.9,272.6 452.8,272.4 453.7,272.7 454.6,272.5 454.7,271.5 454.9,270.5 455.0,269.6 455.1,268.8 455.3,267.3 455.4,266.8 455.6,265.4 455.7,264.6 455.8,265.4 455.9,266.1 456.0,267.5 456.1,268.4 456.2,269.4 456.4,269.9 456.5,271.1 456.6,271.7 456.7,272.4 456.8,273.6 457.8,274.2 458.8,273.9 459.9,274.3 460.9,274.2 461.9,274.8 462.8,274.7 463.7,274.7 464.6,275.2 465.5,275.4 466.5,275.1 467.4,275.1 468.3,275.3 469.2,275.3 469.8,274.4 470.4,273.6 471.3,273.5 472.3,273.4 473.2,273.6 474.1,273.9 475.1,274.2 476.0,274.0 476.9,273.9 477.9,274.2 478.8,274.2 479.4,273.8 480.0,273.1 480.5,272.3 481.1,271.4 481.7,272.0 482.2,273.6 482.8,274.2 483.4,273.3 484.0,272.3 484.5,271.3 485.1,270.8 486.2,271.6 487.3,272.0 487.5,270.8 487.7,270.1 488.0,269.3 488.2,267.7 488.4,267.0 488.4,266.4 488.5,265.4 488.5,264.4 488.5,263.4 488.5,262.2 488.6,261.6 488.6,260.7 488.6,259.7 488.7,259.1 488.7,258.1 488.7,257.1 488.8,256.4 488.8,255.5 488.8,254.4 488.8,253.5 488.9,252.2 488.9,251.5 488.9,250.8 489.0,249.7 489.0,248.9 489.0,247.6 489.0,246.8 489.1,246.0 489.1,245.0 489.1,244.1 489.2,243.7 489.2,242.2 489.2,241.3 489.2,240.5 489.3,239.4 489.3,238.5 489.3,238.0 489.4,237.1 489.4,236.3 489.4,235.5 489.4,234.0 489.5,233.4 489.5,232.7 489.5,231.7 489.6,230.6 489.6,229.6 489.6,228.9 489.7,227.8 489.7,226.8 489.7,225.9 489.7,225.5 489.8,224.5 489.8,223.4 489.8,224.2 489.9,225.2 489.9,226.3 489.9,227.0 489.9,227.7 490.0,228.7 490.0,230.0 490.0,230.3 490.0,231.8 490.1,232.4 490.1,233.0 490.1,234.1 490.2,235.4 490.2,236.0 490.2,237.1 490.2,238.0 490.3,238.9 490.3,239.9 490.3,240.8 490.3,241.5 490.4,242.5 490.4,242.9 490.4,244.1 490.5,244.9 490.5,245.9 490.5,247.0 490.5,248.0 490.6,248.7 490.6,249.8 490.6,250.8 490.6,251.5 490.7,252.1 490.7,253.2 490.7,253.8 490.8,255.2 490.8,256.2 490.8,257.0 490.8,257.8 490.9,258.6 490.9,259.7 490.9,260.4 490.9,261.5 491.0,262.4 491.0,263.1 491.0,263.8 491.1,264.7 491.1,265.9 491.1,267.1 491.1,267.7 491.2,268.8 491.2,269.3 491.2,270.3 491.2,271.6 491.3,271.9 491.3,273.1 492.2,273.2 493.1,273.8 494.0,273.9 494.9,274.6 495.8,274.8 496.0,273.9 496.2,273.1 496.4,272.1 496.6,271.2 496.8,270.1 497.1,269.4 497.3,268.3 497.5,267.4 497.7,266.1 497.9,265.7 498.1,264.6 498.2,265.7 498.4,266.2 498.5,267.5 498.7,268.1 498.8,269.3 499.0,270.3 499.1,270.8 499.3,272.0 499.4,273.0 499.6,273.7 499.7,274.8 500.6,275.0 501.5,274.9 502.5,275.1 503.4,274.9 504.3,275.1 505.2,275.0 506.2,275.4 507.1,274.9 508.0,275.3 508.9,275.4 509.9,275.1 510.8,275.5 511.8,275.1 512.7,275.3 513.7,275.6 514.6,275.3 515.6,275.5 516.5,275.2 517.5,275.7 518.4,275.4 519.4,275.6 520.4,275.6 521.3,275.4 522.3,275.5 523.3,275.8 524.3,275.9 525.3,276.0 526.2,275.8 527.2,275.8 528.2,275.8 529.1,275.5 530.0,275.5 531.0,275.3 531.9,275.3 532.8,275.1 533.7,275.1 534.6,275.0 535.6,275.0 536.5,274.5 537.4,274.7 538.4,273.3 539.0,274.5 539.5,275.4 540.4,275.4 541.2,274.6 542.1,274.8 542.9,274.5 543.8,274.0 545.2,273.0 546.1,273.9 547.1,274.5 548.0,274.7 549.0,274.2 550.0,274.4 551.0,273.9 552.0,273.8 553.0,273.6 553.7,274.0 554.4,275.0 555.3,274.5 556.2,274.5 557.1,274.6 558.0,274.3 558.9,274.2 559.8,274.1 560.7,273.6 561.4,273.9 562.2,274.6 562.9,275.4 563.9,275.7 564.8,275.4 565.8,275.2 566.7,275.7 567.7,275.4 568.6,275.4 569.6,275.6 570.6,275.5 571.5,275.8 572.5,275.9 573.4,276.1 574.4,276.0 575.3,276.0 576.3,276.1 577.2,276.0 578.1,275.9 579.0,276.0 579.9,275.7 580.9,275.8 581.8,275.9 582.7,275.7 583.6,275.7 584.5,276.0 585.4,275.5 586.3,275.9 587.2,275.9 588.2,275.7 589.1,275.8 590.0,275.5 590.9,275.2 591.8,275.4 592.7,275.7 593.7,275.4 594.6,275.3 595.6,275.8 596.5,275.5 597.5,275.5 598.4,275.4 599.4,275.5 600.3,275.4 601.3,275.8 602.2,275.6 603.2,275.8 604.1,275.8 605.1,275.4 606.0,275.6 607.0,275.4 608.0,275.2 609.0,275.1 610.0,275.4 610.9,275.0 611.9,275.0 612.6,275.8 613.5,275.6 614.4,276.2 615.3,275.7 616.2,275.8 617.1,275.8 618.0,275.8 618.9,275.9 619.8,276.2 620.7,275.8 621.6,275.9 622.5,275.9 623.4,276.1 624.3,275.9 625.2,276.2 626.1,276.3 627.0,276.0 627.9,275.9 628.8,276.3 629.7,275.8 630.6,276.0 631.5,276.3 632.4,276.1 633.3,275.9 634.2,276.4 635.2,276.2 636.1,276.0 637.0,276.3 637.9,276.2 638.9,276.3 639.8,275.7 640.7,276.0 641.6,275.8 642.6,275.8 643.5,275.6 644.4,276.3 645.3,275.7 646.2,276.2 647.2,275.8 648.1,276.1 649.0,275.9 649.9,275.6 650.9,276.1 651.8,275.8 652.7,276.1 653.6,275.6 654.6,275.9 655.5,275.8 656.4,275.8 657.3,276.1 658.2,275.9 659.1,275.8 660.1,275.9 661.0,275.6 661.9,275.6 662.8,275.7 663.7,276.1 664.6,276.0 665.5,275.7 666.5,276.2 667.4,276.4 668.3,276.2 669.2,276.4 670.1,276.4 671.0,276.2 672.0,276.2 672.9,276.1 673.8,276.2 674.7,276.0 675.6,276.2 676.5,276.5 677.4,276.4 678.4,276.2 679.3,276.2 680.2,276.4 681.1,276.4" fill="none" stroke="#000080" stroke-width="1.8" stroke-linejoin="round" stroke-linecap="round"/>
<polyline points="432.6,289.4 432.9,289.7 433.2,291.2 433.5,291.5 433.8,292.8 434.1,293.1 434.4,294.0 434.6,294.4 434.9,296.2 435.2,296.2 435.5,297.4 435.8,298.1 436.1,298.4 436.4,299.2 436.7,300.4 437.0,300.7 437.3,302.6 437.6,303.4 437.8,303.7 438.1,304.6 438.4,305.3 438.7,305.6 439.0,307.2 439.3,307.2 439.6,308.0 439.9,309.1 440.1,310.3 440.4,310.5 440.7,311.8 441.0,312.3 441.4,313.1 441.7,313.9 442.1,314.7 442.5,315.4 442.8,316.4 443.2,317.0 443.6,318.3 443.9,318.1 444.3,319.4 445.2,320.0 446.1,319.6 447.0,320.5 447.7,320.5 448.4,319.2 449.1,318.8 449.8,318.7 450.5,317.2 451.1,316.9 451.8,316.1 452.5,315.3 453.1,314.5 453.8,315.1 454.5,314.0 455.4,313.3 456.4,312.9 457.3,312.6 458.1,312.1 458.9,312.4 459.7,313.3 460.5,312.9 461.3,312.5 462.1,313.3 463.0,313.0 463.8,312.6 464.7,312.6 465.6,313.0 466.6,312.4 467.5,312.3 468.2,311.7 468.9,312.1 469.6,311.4 470.3,310.7 470.9,310.7 471.6,309.3 472.2,309.0 472.9,308.3 473.5,308.0 474.1,306.9 474.6,306.1 475.1,305.8 475.7,305.0 476.2,304.1 476.8,303.7 477.2,302.9 477.5,301.9 477.9,301.8 478.2,301.0 478.6,300.3 478.9,299.2 479.3,298.8 479.6,297.4 480.0,297.2 480.6,296.1 481.1,296.1 481.6,294.2 482.2,293.9 482.6,293.7 483.1,292.0 483.5,291.8 484.0,292.6 484.4,294.0 484.9,294.5 485.2,295.8 485.6,296.4 485.9,296.3 486.3,297.6 486.6,298.2 486.9,299.0 487.3,299.5 487.6,300.2 488.0,301.4 488.3,302.0 488.6,303.4 488.9,304.1 489.2,304.8 489.5,304.9 489.8,305.6 490.1,306.0 490.5,307.9 490.8,308.4 491.1,308.9 491.4,309.6 491.7,309.9 492.0,311.2 492.4,312.0 492.8,312.5 493.2,313.9 493.6,313.7 494.1,315.2 494.5,315.3 494.9,315.7 495.3,316.6 495.7,317.6 496.3,318.6 496.9,318.3 497.4,319.4 498.0,320.1 498.6,320.7 499.1,321.0 499.7,321.9 500.3,322.2 501.0,322.8 501.7,322.8 502.4,323.3 503.1,323.8 503.8,324.2 504.0,323.0 504.1,322.6 504.3,321.2 504.4,321.7 504.6,322.5 504.7,323.5 504.8,324.6 505.8,325.5 506.6,325.8 507.4,326.1 508.2,326.4 509.0,326.5 509.9,326.6 510.7,326.7 511.5,327.0 512.3,327.9 513.1,328.1 513.9,328.1 514.7,328.6 515.6,328.7 516.4,329.6 517.2,329.3 518.0,330.3 518.9,329.4 519.7,330.7 520.5,330.5 521.3,330.2 522.1,330.2 522.9,330.5 523.7,331.0 524.6,331.3 525.4,331.4 526.2,330.7 527.0,331.7 527.8,331.4 528.6,331.5 529.5,331.5 530.3,331.3 531.2,331.1 532.0,331.7 532.9,331.1 533.7,331.1 534.6,331.3 535.4,331.2 536.3,331.7 537.1,331.2 538.0,332.3 538.8,331.8 539.6,332.3 540.4,331.6 541.2,332.4 542.0,332.0 542.8,331.8 543.6,331.4 544.4,331.6 545.2,332.0 546.0,332.5 546.8,332.0 547.0,331.1 547.1,331.0 547.3,329.6 547.5,330.2 547.7,331.3 547.9,332.0 548.7,332.4 549.5,331.9 550.3,332.5 551.1,332.3 551.8,332.5 552.6,333.4 553.4,332.7 554.2,332.8 555.0,333.3 555.8,333.1 556.6,332.9 557.4,333.8 558.2,334.2 559.1,333.4 559.9,333.5 560.7,334.3 561.5,334.5 562.3,334.1 563.1,334.2 563.9,333.8 564.7,334.4 565.6,334.7 566.4,335.1 567.2,334.7 568.0,334.6 568.8,334.9 569.6,335.2 570.4,335.7 571.2,335.2 572.0,335.2 572.8,335.9 573.6,335.5 574.4,336.4 575.2,335.9 576.0,336.0 576.8,336.1 577.6,336.6 578.4,336.5 579.2,337.0 580.0,336.8 580.8,336.9 581.6,337.5 582.5,337.3 583.3,337.0 584.1,337.2 584.9,337.2 585.8,336.9 586.6,337.3 587.4,337.9 588.2,338.2 589.0,337.5 589.9,337.4 590.7,338.5 591.5,338.2 592.3,337.8 593.1,338.0 594.0,337.8 594.8,338.5 595.6,339.0 596.4,338.1 597.3,338.1 598.1,338.7 598.9,338.9 599.7,338.7 600.6,339.3 601.4,339.4 602.2,339.1 603.0,339.5 603.9,338.6 604.7,339.3 605.5,339.3 606.3,339.0 607.2,339.5 608.0,339.6 608.8,339.0 609.6,339.7 610.5,339.2 611.3,339.6 612.1,339.4 613.0,339.4 613.8,339.4 614.6,339.7 615.4,339.1 616.3,339.6 617.1,340.1 617.9,339.5 618.7,339.0 619.6,340.3 620.4,339.7 621.2,340.3 622.0,339.2 622.8,339.3 623.6,340.4 624.4,339.9 625.2,339.7 626.0,339.7 626.9,340.2 627.7,339.7 628.5,339.7 629.3,340.2 630.1,340.1 630.9,340.4 631.7,340.1 632.5,339.7 633.3,340.5 634.1,339.6 634.9,339.9 635.7,340.6 636.5,340.3 637.3,340.6 638.1,339.7 639.0,340.1 639.8,339.9 640.6,340.0 641.4,339.8 642.2,340.6 643.0,340.0 643.8,339.8 644.6,340.3 645.4,340.6 646.2,340.5 647.0,340.1 647.8,340.6 648.6,340.1 649.4,340.4 650.2,340.0 651.0,340.8 651.8,340.6 652.6,340.1 653.4,340.8 654.3,340.5 655.1,340.0 655.9,340.1 656.7,339.9 657.5,340.8 658.3,341.0 659.1,340.9 659.9,340.8 660.7,340.8 661.5,341.1 662.3,340.9 663.1,340.8 663.9,340.5 664.7,340.8 665.5,340.3 666.3,340.0 667.1,340.2 667.9,340.3 668.7,340.1 669.5,340.7 670.3,341.1 671.1,341.2 672.0,340.2 672.8,340.9 673.6,340.9 674.4,340.7 675.2,341.3 676.0,341.0 676.8,340.3 677.6,340.4 678.4,340.4 679.2,340.6 680.0,340.6 680.8,340.8" fill="none" stroke="#000000" stroke-width="2.1" stroke-linejoin="round" stroke-linecap="round"/>
<rect x="411.7" y="15.2" width="293.60" height="337.30" fill="none" stroke="#000" stroke-width="1.3"/>
<line x1="419.00" y1="15.20" x2="419.00" y2="19.80" stroke="#000" stroke-width="1.1"/>
<line x1="419.00" y1="352.50" x2="419.00" y2="347.90" stroke="#000" stroke-width="1.1"/>
<line x1="427.20" y1="15.20" x2="427.20" y2="18.00" stroke="#000" stroke-width="1.1"/>
<line x1="427.20" y1="352.50" x2="427.20" y2="349.70" stroke="#000" stroke-width="1.1"/>
<line x1="435.40" y1="15.20" x2="435.40" y2="19.80" stroke="#000" stroke-width="1.1"/>
<line x1="435.40" y1="352.50" x2="435.40" y2="347.90" stroke="#000" stroke-width="1.1"/>
<line x1="443.60" y1="15.20" x2="443.60" y2="18.00" stroke="#000" stroke-width="1.1"/>
<line x1="443.60" y1="352.50" x2="443.60" y2="349.70" stroke="#000" stroke-width="1.1"/>
<line x1="451.80" y1="15.20" x2="451.80" y2="19.80" stroke="#000" stroke-width="1.1"/>
<line x1="451.80" y1="352.50" x2="451.80" y2="347.90" stroke="#000" stroke-width="1.1"/>
<line x1="460.00" y1="15.20" x2="460.00" y2="18.00" stroke="#000" stroke-width="1.1"/>
<line x1="460.00" y1="352.50" x2="460.00" y2="349.70" stroke="#000" stroke-width="1.1"/>
<line x1="468.20" y1="15.20" x2="468.20" y2="19.80" stroke="#000" stroke-width="1.1"/>
<line x1="468.20" y1="352.50" x2="468.20" y2="347.90" stroke="#000" stroke-width="1.1"/>
<line x1="476.40" y1="15.20" x2="476.40" y2="18.00" stroke="#000" stroke-width="1.1"/>
<line x1="476.40" y1="352.50" x2="476.40" y2="349.70" stroke="#000" stroke-width="1.1"/>
<line x1="484.60" y1="15.20" x2="484.60" y2="19.80" stroke="#000" stroke-width="1.1"/>
<line x1="484.60" y1="352.50" x2="484.60" y2="347.90" stroke="#000" stroke-width="1.1"/>
<line x1="492.80" y1="15.20" x2="492.80" y2="18.00" stroke="#000" stroke-width="1.1"/>
<line x1="492.80" y1="352.50" x2="492.80" y2="349.70" stroke="#000" stroke-width="1.1"/>
<line x1="501.00" y1="15.20" x2="501.00" y2="19.80" stroke="#000" stroke-width="1.1"/>
<line x1="501.00" y1="352.50" x2="501.00" y2="347.90" stroke="#000" stroke-width="1.1"/>
<line x1="509.20" y1="15.20" x2="509.20" y2="18.00" stroke="#000" stroke-width="1.1"/>
<line x1="509.20" y1="352.50" x2="509.20" y2="349.70" stroke="#000" stroke-width="1.1"/>
<line x1="517.40" y1="15.20" x2="517.40" y2="19.80" stroke="#000" stroke-width="1.1"/>
<line x1="517.40" y1="352.50" x2="517.40" y2="347.90" stroke="#000" stroke-width="1.1"/>
<line x1="525.60" y1="15.20" x2="525.60" y2="18.00" stroke="#000" stroke-width="1.1"/>
<line x1="525.60" y1="352.50" x2="525.60" y2="349.70" stroke="#000" stroke-width="1.1"/>
<line x1="533.80" y1="15.20" x2="533.80" y2="19.80" stroke="#000" stroke-width="1.1"/>
<line x1="533.80" y1="352.50" x2="533.80" y2="347.90" stroke="#000" stroke-width="1.1"/>
<line x1="542.00" y1="15.20" x2="542.00" y2="18.00" stroke="#000" stroke-width="1.1"/>
<line x1="542.00" y1="352.50" x2="542.00" y2="349.70" stroke="#000" stroke-width="1.1"/>
<line x1="550.20" y1="15.20" x2="550.20" y2="19.80" stroke="#000" stroke-width="1.1"/>
<line x1="550.20" y1="352.50" x2="550.20" y2="347.90" stroke="#000" stroke-width="1.1"/>
<line x1="558.40" y1="15.20" x2="558.40" y2="18.00" stroke="#000" stroke-width="1.1"/>
<line x1="558.40" y1="352.50" x2="558.40" y2="349.70" stroke="#000" stroke-width="1.1"/>
<line x1="566.60" y1="15.20" x2="566.60" y2="19.80" stroke="#000" stroke-width="1.1"/>
<line x1="566.60" y1="352.50" x2="566.60" y2="347.90" stroke="#000" stroke-width="1.1"/>
<line x1="574.80" y1="15.20" x2="574.80" y2="18.00" stroke="#000" stroke-width="1.1"/>
<line x1="574.80" y1="352.50" x2="574.80" y2="349.70" stroke="#000" stroke-width="1.1"/>
<line x1="583.00" y1="15.20" x2="583.00" y2="19.80" stroke="#000" stroke-width="1.1"/>
<line x1="583.00" y1="352.50" x2="583.00" y2="347.90" stroke="#000" stroke-width="1.1"/>
<line x1="591.20" y1="15.20" x2="591.20" y2="18.00" stroke="#000" stroke-width="1.1"/>
<line x1="591.20" y1="352.50" x2="591.20" y2="349.70" stroke="#000" stroke-width="1.1"/>
<line x1="599.40" y1="15.20" x2="599.40" y2="19.80" stroke="#000" stroke-width="1.1"/>
<line x1="599.40" y1="352.50" x2="599.40" y2="347.90" stroke="#000" stroke-width="1.1"/>
<line x1="607.60" y1="15.20" x2="607.60" y2="18.00" stroke="#000" stroke-width="1.1"/>
<line x1="607.60" y1="352.50" x2="607.60" y2="349.70" stroke="#000" stroke-width="1.1"/>
<line x1="615.80" y1="15.20" x2="615.80" y2="19.80" stroke="#000" stroke-width="1.1"/>
<line x1="615.80" y1="352.50" x2="615.80" y2="347.90" stroke="#000" stroke-width="1.1"/>
<line x1="624.00" y1="15.20" x2="624.00" y2="18.00" stroke="#000" stroke-width="1.1"/>
<line x1="624.00" y1="352.50" x2="624.00" y2="349.70" stroke="#000" stroke-width="1.1"/>
<line x1="632.20" y1="15.20" x2="632.20" y2="19.80" stroke="#000" stroke-width="1.1"/>
<line x1="632.20" y1="352.50" x2="632.20" y2="347.90" stroke="#000" stroke-width="1.1"/>
<line x1="640.40" y1="15.20" x2="640.40" y2="18.00" stroke="#000" stroke-width="1.1"/>
<line x1="640.40" y1="352.50" x2="640.40" y2="349.70" stroke="#000" stroke-width="1.1"/>
<line x1="648.60" y1="15.20" x2="648.60" y2="19.80" stroke="#000" stroke-width="1.1"/>
<line x1="648.60" y1="352.50" x2="648.60" y2="347.90" stroke="#000" stroke-width="1.1"/>
<line x1="656.80" y1="15.20" x2="656.80" y2="18.00" stroke="#000" stroke-width="1.1"/>
<line x1="656.80" y1="352.50" x2="656.80" y2="349.70" stroke="#000" stroke-width="1.1"/>
<line x1="665.00" y1="15.20" x2="665.00" y2="19.80" stroke="#000" stroke-width="1.1"/>
<line x1="665.00" y1="352.50" x2="665.00" y2="347.90" stroke="#000" stroke-width="1.1"/>
<line x1="673.20" y1="15.20" x2="673.20" y2="18.00" stroke="#000" stroke-width="1.1"/>
<line x1="673.20" y1="352.50" x2="673.20" y2="349.70" stroke="#000" stroke-width="1.1"/>
<line x1="681.40" y1="15.20" x2="681.40" y2="19.80" stroke="#000" stroke-width="1.1"/>
<line x1="681.40" y1="352.50" x2="681.40" y2="347.90" stroke="#000" stroke-width="1.1"/>
<line x1="689.60" y1="15.20" x2="689.60" y2="18.00" stroke="#000" stroke-width="1.1"/>
<line x1="689.60" y1="352.50" x2="689.60" y2="349.70" stroke="#000" stroke-width="1.1"/>
<line x1="697.80" y1="15.20" x2="697.80" y2="19.80" stroke="#000" stroke-width="1.1"/>
<line x1="697.80" y1="352.50" x2="697.80" y2="347.90" stroke="#000" stroke-width="1.1"/>
<line x1="706.00" y1="15.20" x2="706.00" y2="18.00" stroke="#000" stroke-width="1.1"/>
<line x1="706.00" y1="352.50" x2="706.00" y2="349.70" stroke="#000" stroke-width="1.1"/>
<text transform="translate(419.00,7.90) scale(1.13,1)" font-size="9.2" text-anchor="middle" fill="#222">0</text>
<text transform="translate(419.00,363.70) scale(1.13,1)" font-size="9.2" text-anchor="middle" fill="#222">0</text>
<text transform="translate(435.40,7.90) scale(1.13,1)" font-size="9.2" text-anchor="middle" fill="#222">5</text>
<text transform="translate(435.40,363.70) scale(1.13,1)" font-size="9.2" text-anchor="middle" fill="#222">5</text>
<text transform="translate(451.80,7.90) scale(1.13,1)" font-size="9.2" text-anchor="middle" fill="#222">10</text>
<text transform="translate(451.80,363.70) scale(1.13,1)" font-size="9.2" text-anchor="middle" fill="#222">10</text>
<text transform="translate(468.20,7.90) scale(1.13,1)" font-size="9.2" text-anchor="middle" fill="#222">15</text>
<text transform="translate(468.20,363.70) scale(1.13,1)" font-size="9.2" text-anchor="middle" fill="#222">15</text>
<text transform="translate(484.60,7.90) scale(1.13,1)" font-size="9.2" text-anchor="middle" fill="#222">20</text>
<text transform="translate(484.60,363.70) scale(1.13,1)" font-size="9.2" text-anchor="middle" fill="#222">20</text>
<text transform="translate(501.00,7.90) scale(1.13,1)" font-size="9.2" text-anchor="middle" fill="#222">25</text>
<text transform="translate(501.00,363.70) scale(1.13,1)" font-size="9.2" text-anchor="middle" fill="#222">25</text>
<text transform="translate(517.40,7.90) scale(1.13,1)" font-size="9.2" text-anchor="middle" fill="#222">30</text>
<text transform="translate(517.40,363.70) scale(1.13,1)" font-size="9.2" text-anchor="middle" fill="#222">30</text>
<text transform="translate(533.80,7.90) scale(1.13,1)" font-size="9.2" text-anchor="middle" fill="#222">35</text>
<text transform="translate(533.80,363.70) scale(1.13,1)" font-size="9.2" text-anchor="middle" fill="#222">35</text>
<text transform="translate(550.20,7.90) scale(1.13,1)" font-size="9.2" text-anchor="middle" fill="#222">40</text>
<text transform="translate(550.20,363.70) scale(1.13,1)" font-size="9.2" text-anchor="middle" fill="#222">40</text>
<text transform="translate(566.60,7.90) scale(1.13,1)" font-size="9.2" text-anchor="middle" fill="#222">45</text>
<text transform="translate(566.60,363.70) scale(1.13,1)" font-size="9.2" text-anchor="middle" fill="#222">45</text>
<text transform="translate(583.00,7.90) scale(1.13,1)" font-size="9.2" text-anchor="middle" fill="#222">50</text>
<text transform="translate(583.00,363.70) scale(1.13,1)" font-size="9.2" text-anchor="middle" fill="#222">50</text>
<text transform="translate(599.40,7.90) scale(1.13,1)" font-size="9.2" text-anchor="middle" fill="#222">55</text>
<text transform="translate(599.40,363.70) scale(1.13,1)" font-size="9.2" text-anchor="middle" fill="#222">55</text>
<text transform="translate(615.80,7.90) scale(1.13,1)" font-size="9.2" text-anchor="middle" fill="#222">60</text>
<text transform="translate(615.80,363.70) scale(1.13,1)" font-size="9.2" text-anchor="middle" fill="#222">60</text>
<text transform="translate(632.20,7.90) scale(1.13,1)" font-size="9.2" text-anchor="middle" fill="#222">65</text>
<text transform="translate(632.20,363.70) scale(1.13,1)" font-size="9.2" text-anchor="middle" fill="#222">65</text>
<text transform="translate(648.60,7.90) scale(1.13,1)" font-size="9.2" text-anchor="middle" fill="#222">70</text>
<text transform="translate(648.60,363.70) scale(1.13,1)" font-size="9.2" text-anchor="middle" fill="#222">70</text>
<text transform="translate(665.00,7.90) scale(1.13,1)" font-size="9.2" text-anchor="middle" fill="#222">75</text>
<text transform="translate(665.00,363.70) scale(1.13,1)" font-size="9.2" text-anchor="middle" fill="#222">75</text>
<text transform="translate(681.40,7.90) scale(1.13,1)" font-size="9.2" text-anchor="middle" fill="#222">80</text>
<text transform="translate(681.40,363.70) scale(1.13,1)" font-size="9.2" text-anchor="middle" fill="#222">80</text>
<text transform="translate(697.80,7.90) scale(1.13,1)" font-size="9.2" text-anchor="middle" fill="#222">85</text>
<text transform="translate(697.80,363.70) scale(1.13,1)" font-size="9.2" text-anchor="middle" fill="#222">85</text>
<line x1="411.70" y1="24.30" x2="417.20" y2="24.30" stroke="#000" stroke-width="1.1"/>
<line x1="705.30" y1="24.30" x2="699.80" y2="24.30" stroke="#000" stroke-width="1.1"/>
<text transform="translate(405.10,27.10) scale(1.13,1)" font-size="9.2" text-anchor="end" fill="#222">42</text>
<line x1="411.70" y1="41.10" x2="417.20" y2="41.10" stroke="#000" stroke-width="1.1"/>
<line x1="705.30" y1="41.10" x2="699.80" y2="41.10" stroke="#000" stroke-width="1.1"/>
<text transform="translate(405.10,43.90) scale(1.13,1)" font-size="9.2" text-anchor="end" fill="#222">28</text>
<line x1="411.70" y1="58.50" x2="417.20" y2="58.50" stroke="#000" stroke-width="1.1"/>
<line x1="705.30" y1="58.50" x2="699.80" y2="58.50" stroke="#000" stroke-width="1.1"/>
<text transform="translate(405.10,61.30) scale(1.13,1)" font-size="9.2" text-anchor="end" fill="#222">14</text>
<line x1="411.70" y1="75.50" x2="417.20" y2="75.50" stroke="#000" stroke-width="1.1"/>
<line x1="705.30" y1="75.50" x2="699.80" y2="75.50" stroke="#000" stroke-width="1.1"/>
<text transform="translate(405.10,78.30) scale(1.13,1)" font-size="9.2" text-anchor="end" fill="#222">0</text>
<line x1="411.70" y1="32.50" x2="414.70" y2="32.50" stroke="#000" stroke-width="1.1"/>
<line x1="705.30" y1="32.50" x2="702.30" y2="32.50" stroke="#000" stroke-width="1.1"/>
<line x1="411.70" y1="49.40" x2="414.70" y2="49.40" stroke="#000" stroke-width="1.1"/>
<line x1="705.30" y1="49.40" x2="702.30" y2="49.40" stroke="#000" stroke-width="1.1"/>
<line x1="411.70" y1="67.30" x2="414.70" y2="67.30" stroke="#000" stroke-width="1.1"/>
<line x1="705.30" y1="67.30" x2="702.30" y2="67.30" stroke="#000" stroke-width="1.1"/>
<line x1="411.70" y1="83.90" x2="414.70" y2="83.90" stroke="#000" stroke-width="1.1"/>
<line x1="705.30" y1="83.90" x2="702.30" y2="83.90" stroke="#000" stroke-width="1.1"/>
<line x1="411.70" y1="92.30" x2="417.20" y2="92.30" stroke="#000" stroke-width="1.1"/>
<line x1="705.30" y1="92.30" x2="699.80" y2="92.30" stroke="#000" stroke-width="1.1"/>
<text transform="translate(405.10,95.10) scale(1.13,1)" font-size="9.2" text-anchor="end" fill="#222">300</text>
<line x1="411.70" y1="108.90" x2="417.20" y2="108.90" stroke="#000" stroke-width="1.1"/>
<line x1="705.30" y1="108.90" x2="699.80" y2="108.90" stroke="#000" stroke-width="1.1"/>
<text transform="translate(405.10,111.70) scale(1.13,1)" font-size="9.2" text-anchor="end" fill="#222">200</text>
<line x1="411.70" y1="125.60" x2="417.20" y2="125.60" stroke="#000" stroke-width="1.1"/>
<line x1="705.30" y1="125.60" x2="699.80" y2="125.60" stroke="#000" stroke-width="1.1"/>
<text transform="translate(405.10,128.40) scale(1.13,1)" font-size="9.2" text-anchor="end" fill="#222">100</text>
<line x1="411.70" y1="142.40" x2="417.20" y2="142.40" stroke="#000" stroke-width="1.1"/>
<line x1="705.30" y1="142.40" x2="699.80" y2="142.40" stroke="#000" stroke-width="1.1"/>
<text transform="translate(405.10,145.20) scale(1.13,1)" font-size="9.2" text-anchor="end" fill="#222">0</text>
<line x1="411.70" y1="100.50" x2="414.70" y2="100.50" stroke="#000" stroke-width="1.1"/>
<line x1="705.30" y1="100.50" x2="702.30" y2="100.50" stroke="#000" stroke-width="1.1"/>
<line x1="411.70" y1="117.10" x2="414.70" y2="117.10" stroke="#000" stroke-width="1.1"/>
<line x1="705.30" y1="117.10" x2="702.30" y2="117.10" stroke="#000" stroke-width="1.1"/>
<line x1="411.70" y1="134.20" x2="414.70" y2="134.20" stroke="#000" stroke-width="1.1"/>
<line x1="705.30" y1="134.20" x2="702.30" y2="134.20" stroke="#000" stroke-width="1.1"/>
<line x1="411.70" y1="152.50" x2="414.70" y2="152.50" stroke="#000" stroke-width="1.1"/>
<line x1="705.30" y1="152.50" x2="702.30" y2="152.50" stroke="#000" stroke-width="1.1"/>
<line x1="411.70" y1="160.70" x2="417.20" y2="160.70" stroke="#000" stroke-width="1.1"/>
<line x1="705.30" y1="160.70" x2="699.80" y2="160.70" stroke="#000" stroke-width="1.1"/>
<text transform="translate(405.10,163.50) scale(1.13,1)" font-size="9.2" text-anchor="end" fill="#222">36</text>
<line x1="411.70" y1="177.20" x2="417.20" y2="177.20" stroke="#000" stroke-width="1.1"/>
<line x1="705.30" y1="177.20" x2="699.80" y2="177.20" stroke="#000" stroke-width="1.1"/>
<text transform="translate(405.10,180.00) scale(1.13,1)" font-size="9.2" text-anchor="end" fill="#222">24</text>
<line x1="411.70" y1="193.10" x2="417.20" y2="193.10" stroke="#000" stroke-width="1.1"/>
<line x1="705.30" y1="193.10" x2="699.80" y2="193.10" stroke="#000" stroke-width="1.1"/>
<text transform="translate(405.10,195.90) scale(1.13,1)" font-size="9.2" text-anchor="end" fill="#222">12</text>
<line x1="411.70" y1="209.50" x2="417.20" y2="209.50" stroke="#000" stroke-width="1.1"/>
<line x1="705.30" y1="209.50" x2="699.80" y2="209.50" stroke="#000" stroke-width="1.1"/>
<text transform="translate(405.10,212.30) scale(1.13,1)" font-size="9.2" text-anchor="end" fill="#222">0</text>
<line x1="411.70" y1="168.80" x2="414.70" y2="168.80" stroke="#000" stroke-width="1.1"/>
<line x1="705.30" y1="168.80" x2="702.30" y2="168.80" stroke="#000" stroke-width="1.1"/>
<line x1="411.70" y1="185.40" x2="414.70" y2="185.40" stroke="#000" stroke-width="1.1"/>
<line x1="705.30" y1="185.40" x2="702.30" y2="185.40" stroke="#000" stroke-width="1.1"/>
<line x1="411.70" y1="201.10" x2="414.70" y2="201.10" stroke="#000" stroke-width="1.1"/>
<line x1="705.30" y1="201.10" x2="702.30" y2="201.10" stroke="#000" stroke-width="1.1"/>
<line x1="411.70" y1="224.80" x2="417.20" y2="224.80" stroke="#000" stroke-width="1.1"/>
<line x1="705.30" y1="224.80" x2="699.80" y2="224.80" stroke="#000" stroke-width="1.1"/>
<text transform="translate(405.10,227.60) scale(1.13,1)" font-size="9.2" text-anchor="end" fill="#222">4200</text>
<line x1="411.70" y1="242.10" x2="417.20" y2="242.10" stroke="#000" stroke-width="1.1"/>
<line x1="705.30" y1="242.10" x2="699.80" y2="242.10" stroke="#000" stroke-width="1.1"/>
<text transform="translate(405.10,244.90) scale(1.13,1)" font-size="9.2" text-anchor="end" fill="#222">2800</text>
<line x1="411.70" y1="259.80" x2="417.20" y2="259.80" stroke="#000" stroke-width="1.1"/>
<line x1="705.30" y1="259.80" x2="699.80" y2="259.80" stroke="#000" stroke-width="1.1"/>
<text transform="translate(405.10,262.60) scale(1.13,1)" font-size="9.2" text-anchor="end" fill="#222">1400</text>
<line x1="411.70" y1="277.10" x2="417.20" y2="277.10" stroke="#000" stroke-width="1.1"/>
<line x1="705.30" y1="277.10" x2="699.80" y2="277.10" stroke="#000" stroke-width="1.1"/>
<text transform="translate(405.10,279.90) scale(1.13,1)" font-size="9.2" text-anchor="end" fill="#222">0</text>
<line x1="411.70" y1="233.30" x2="414.70" y2="233.30" stroke="#000" stroke-width="1.1"/>
<line x1="705.30" y1="233.30" x2="702.30" y2="233.30" stroke="#000" stroke-width="1.1"/>
<line x1="411.70" y1="251.10" x2="414.70" y2="251.10" stroke="#000" stroke-width="1.1"/>
<line x1="705.30" y1="251.10" x2="702.30" y2="251.10" stroke="#000" stroke-width="1.1"/>
<line x1="411.70" y1="268.40" x2="414.70" y2="268.40" stroke="#000" stroke-width="1.1"/>
<line x1="705.30" y1="268.40" x2="702.30" y2="268.40" stroke="#000" stroke-width="1.1"/>
<line x1="411.70" y1="295.30" x2="417.20" y2="295.30" stroke="#000" stroke-width="1.1"/>
<line x1="705.30" y1="295.30" x2="699.80" y2="295.30" stroke="#000" stroke-width="1.1"/>
<text transform="translate(405.10,298.10) scale(1.13,1)" font-size="9.2" text-anchor="end" fill="#222">30</text>
<line x1="411.70" y1="311.70" x2="417.20" y2="311.70" stroke="#000" stroke-width="1.1"/>
<line x1="705.30" y1="311.70" x2="699.80" y2="311.70" stroke="#000" stroke-width="1.1"/>
<text transform="translate(405.10,314.50) scale(1.13,1)" font-size="9.2" text-anchor="end" fill="#222">20</text>
<line x1="411.70" y1="328.30" x2="417.20" y2="328.30" stroke="#000" stroke-width="1.1"/>
<line x1="705.30" y1="328.30" x2="699.80" y2="328.30" stroke="#000" stroke-width="1.1"/>
<text transform="translate(405.10,331.10) scale(1.13,1)" font-size="9.2" text-anchor="end" fill="#222">10</text>
<line x1="411.70" y1="344.60" x2="417.20" y2="344.60" stroke="#000" stroke-width="1.1"/>
<line x1="705.30" y1="344.60" x2="699.80" y2="344.60" stroke="#000" stroke-width="1.1"/>
<text transform="translate(405.10,347.40) scale(1.13,1)" font-size="9.2" text-anchor="end" fill="#222">0</text>
<line x1="411.70" y1="287.30" x2="414.70" y2="287.30" stroke="#000" stroke-width="1.1"/>
<line x1="705.30" y1="287.30" x2="702.30" y2="287.30" stroke="#000" stroke-width="1.1"/>
<line x1="411.70" y1="303.50" x2="414.70" y2="303.50" stroke="#000" stroke-width="1.1"/>
<line x1="705.30" y1="303.50" x2="702.30" y2="303.50" stroke="#000" stroke-width="1.1"/>
<line x1="411.70" y1="320.00" x2="414.70" y2="320.00" stroke="#000" stroke-width="1.1"/>
<line x1="705.30" y1="320.00" x2="702.30" y2="320.00" stroke="#000" stroke-width="1.1"/>
<line x1="411.70" y1="336.50" x2="414.70" y2="336.50" stroke="#000" stroke-width="1.1"/>
<line x1="705.30" y1="336.50" x2="702.30" y2="336.50" stroke="#000" stroke-width="1.1"/>
<rect x="540.50" y="42.50" width="21.00" height="14.00" fill="#fff" stroke="#6a6a6a" stroke-width="1"/>
<text transform="translate(543.71,53.85) scale(1.1920,1)" font-size="11.43" font-weight="normal" fill="#222">F2</text>
<rect x="525.50" y="105.50" width="57.00" height="14.00" fill="#fff" stroke="#6a6a6a" stroke-width="1"/>
<text transform="translate(530.01,116.55) scale(1.1876,1)" font-size="11.45" font-weight="normal" fill="#222">Piperine</text>
<rect x="563.50" y="181.50" width="33.00" height="14.00" fill="#fff" stroke="#6a6a6a" stroke-width="1"/>
<text transform="translate(567.13,192.55) scale(1.0869,1)" font-size="12.46" font-weight="normal" fill="#222">TPP</text>
<rect x="514.50" y="252.50" width="78.00" height="14.00" fill="#fff" stroke="#6a6a6a" stroke-width="1"/>
<text transform="translate(518.89,262.94) scale(1.2863,1)" font-size="10.56" font-weight="normal" fill="#222">Stearic acid</text>
<rect x="425.50" y="327.50" width="60.00" height="13.00" fill="#fff" stroke="#6a6a6a" stroke-width="1"/>
<text transform="translate(429.91,338.14) scale(1.2390,1)" font-size="11.13" font-weight="normal" fill="#222">Chitosan</text>
<text transform="translate(378.35,219.81) rotate(-90) scale(1,1.4082)" font-size="10.91" font-weight="bold" fill="#222" style="stroke-width:0.35px">Lin (Counts)</text>
<text transform="translate(517.61,381.95) scale(1.1396,1)" font-size="11.14" font-weight="bold" fill="#222">2 Theta-Scale</text>
<text transform="translate(549.02,409.65) scale(0.9917,1)" font-size="14.76" font-weight="normal" fill="#222">(b)</text>
</svg></body></html>
